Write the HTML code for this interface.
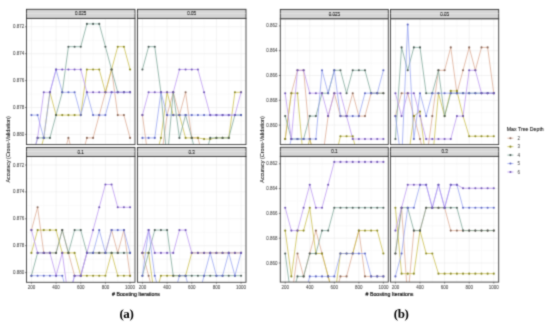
<!DOCTYPE html><html><head><meta charset="utf-8"><style>html,body{margin:0;padding:0;background:#fff;width:550px;height:326px;overflow:hidden}svg{display:block}text{font-family:"Liberation Sans",sans-serif}</style></head><body>
<svg width="550" height="326" viewBox="0 0 550 326">
<defs><filter id="bl" x="0" y="0" width="550" height="326" filterUnits="userSpaceOnUse" color-interpolation-filters="sRGB"><feConvolveMatrix order="3" kernelMatrix="1 4 1 4 16 4 1 4 1" edgeMode="duplicate"/></filter></defs>
<g filter="url(#bl)">
<rect width="550" height="326" fill="#fff"/>
<rect x="26.5" y="9.3" width="108.5" height="9.1" fill="#d5d5d5" stroke="#333" stroke-width="0.9"/>
<text x="80.75" y="15.4" font-size="4.5" text-anchor="middle" fill="#111" stroke="#111" stroke-width="0.12" >0.025</text>
<rect x="26.5" y="18.4" width="108.5" height="126.2" fill="#fff"/>
<line x1="43.76" y1="18.4" x2="43.76" y2="144.6" stroke="#f3f3f3" stroke-width="0.4"/><line x1="68.42" y1="18.4" x2="68.42" y2="144.6" stroke="#f3f3f3" stroke-width="0.4"/><line x1="93.08" y1="18.4" x2="93.08" y2="144.6" stroke="#f3f3f3" stroke-width="0.4"/><line x1="117.74" y1="18.4" x2="117.74" y2="144.6" stroke="#f3f3f3" stroke-width="0.4"/><line x1="26.5" y1="13.35" x2="135" y2="13.35" stroke="#f3f3f3" stroke-width="0.4"/><line x1="26.5" y1="40.25" x2="135" y2="40.25" stroke="#f3f3f3" stroke-width="0.4"/><line x1="26.5" y1="67.15" x2="135" y2="67.15" stroke="#f3f3f3" stroke-width="0.4"/><line x1="26.5" y1="94.05" x2="135" y2="94.05" stroke="#f3f3f3" stroke-width="0.4"/><line x1="26.5" y1="120.95" x2="135" y2="120.95" stroke="#f3f3f3" stroke-width="0.4"/><line x1="31.43" y1="18.4" x2="31.43" y2="144.6" stroke="#ebebeb" stroke-width="0.6"/><line x1="56.09" y1="18.4" x2="56.09" y2="144.6" stroke="#ebebeb" stroke-width="0.6"/><line x1="80.75" y1="18.4" x2="80.75" y2="144.6" stroke="#ebebeb" stroke-width="0.6"/><line x1="105.41" y1="18.4" x2="105.41" y2="144.6" stroke="#ebebeb" stroke-width="0.6"/><line x1="130.07" y1="18.4" x2="130.07" y2="144.6" stroke="#ebebeb" stroke-width="0.6"/><line x1="26.5" y1="26.8" x2="135" y2="26.8" stroke="#ebebeb" stroke-width="0.6"/><line x1="26.5" y1="53.7" x2="135" y2="53.7" stroke="#ebebeb" stroke-width="0.6"/><line x1="26.5" y1="80.6" x2="135" y2="80.6" stroke="#ebebeb" stroke-width="0.6"/><line x1="26.5" y1="107.5" x2="135" y2="107.5" stroke="#ebebeb" stroke-width="0.6"/><line x1="26.5" y1="134.4" x2="135" y2="134.4" stroke="#ebebeb" stroke-width="0.6"/>
<clipPath id="ca0"><rect x="26.5" y="18.4" width="108.5" height="126.2"/></clipPath>
<g clip-path="url(#ca0)">
<polyline points="31.43,160.7 37.6,160.7 43.76,160.7 49.93,160.7 56.09,160.7 62.26,160.7 68.42,137.9 74.59,160.7 80.75,160.7 86.91,137.9 93.08,137.9 99.24,115.1 105.41,92.3 111.57,69.5 117.74,115.1 123.9,115.1 130.07,137.9" fill="none" stroke="#dba890" stroke-width="0.75"/>
<polyline points="31.43,160.7 37.6,160.7 43.76,137.9 49.93,92.3 56.09,115.1 62.26,115.1 68.42,115.1 74.59,115.1 80.75,115.1 86.91,69.5 93.08,69.5 99.24,69.5 105.41,92.3 111.57,69.5 117.74,46.7 123.9,46.7 130.07,69.5" fill="none" stroke="#c8bc48" stroke-width="0.75"/>
<polyline points="31.43,160.7 37.6,137.9 43.76,137.9 49.93,137.9 56.09,115.1 62.26,92.3 68.42,46.7 74.59,46.7 80.75,46.7 86.91,23.9 93.08,23.9 99.24,23.9 105.41,46.7 111.57,69.5 117.74,92.3 123.9,92.3 130.07,92.3" fill="none" stroke="#7aa496" stroke-width="0.75"/>
<polyline points="31.43,115.1 37.6,115.1 43.76,137.9 49.93,92.3 56.09,69.5 62.26,92.3 68.42,92.3 74.59,92.3 80.75,115.1 86.91,92.3 93.08,115.1 99.24,115.1 105.41,115.1 111.57,92.3 117.74,92.3 123.9,92.3 130.07,92.3" fill="none" stroke="#94a2f0" stroke-width="0.75"/>
<polyline points="31.43,160.7 37.6,137.9 43.76,92.3 49.93,92.3 56.09,69.5 62.26,69.5 68.42,69.5 74.59,69.5 80.75,69.5 86.91,92.3 93.08,92.3 99.24,92.3 105.41,92.3 111.57,92.3 117.74,92.3 123.9,92.3 130.07,92.3" fill="none" stroke="#b894f0" stroke-width="0.75"/>
<circle cx="68.42" cy="137.9" r="1.05" fill="#8a6a5c"/>
<circle cx="86.91" cy="137.9" r="1.05" fill="#8a6a5c"/>
<circle cx="93.08" cy="137.9" r="1.05" fill="#8a6a5c"/>
<circle cx="99.24" cy="115.1" r="1.05" fill="#8a6a5c"/>
<circle cx="105.41" cy="92.3" r="1.05" fill="#8a6a5c"/>
<circle cx="111.57" cy="69.5" r="1.05" fill="#8a6a5c"/>
<circle cx="117.74" cy="115.1" r="1.05" fill="#8a6a5c"/>
<circle cx="123.9" cy="115.1" r="1.05" fill="#8a6a5c"/>
<circle cx="130.07" cy="137.9" r="1.05" fill="#8a6a5c"/>
<circle cx="43.76" cy="137.9" r="1.05" fill="#8a8a2a"/>
<circle cx="49.93" cy="92.3" r="1.05" fill="#8a8a2a"/>
<circle cx="56.09" cy="115.1" r="1.05" fill="#8a8a2a"/>
<circle cx="62.26" cy="115.1" r="1.05" fill="#8a8a2a"/>
<circle cx="68.42" cy="115.1" r="1.05" fill="#8a8a2a"/>
<circle cx="74.59" cy="115.1" r="1.05" fill="#8a8a2a"/>
<circle cx="80.75" cy="115.1" r="1.05" fill="#8a8a2a"/>
<circle cx="86.91" cy="69.5" r="1.05" fill="#8a8a2a"/>
<circle cx="93.08" cy="69.5" r="1.05" fill="#8a8a2a"/>
<circle cx="99.24" cy="69.5" r="1.05" fill="#8a8a2a"/>
<circle cx="105.41" cy="92.3" r="1.05" fill="#8a8a2a"/>
<circle cx="111.57" cy="69.5" r="1.05" fill="#8a8a2a"/>
<circle cx="117.74" cy="46.7" r="1.05" fill="#8a8a2a"/>
<circle cx="123.9" cy="46.7" r="1.05" fill="#8a8a2a"/>
<circle cx="130.07" cy="69.5" r="1.05" fill="#8a8a2a"/>
<circle cx="37.6" cy="137.9" r="1.05" fill="#4e5c58"/>
<circle cx="43.76" cy="137.9" r="1.05" fill="#4e5c58"/>
<circle cx="49.93" cy="137.9" r="1.05" fill="#4e5c58"/>
<circle cx="56.09" cy="115.1" r="1.05" fill="#4e5c58"/>
<circle cx="62.26" cy="92.3" r="1.05" fill="#4e5c58"/>
<circle cx="68.42" cy="46.7" r="1.05" fill="#4e5c58"/>
<circle cx="74.59" cy="46.7" r="1.05" fill="#4e5c58"/>
<circle cx="80.75" cy="46.7" r="1.05" fill="#4e5c58"/>
<circle cx="86.91" cy="23.9" r="1.05" fill="#4e5c58"/>
<circle cx="93.08" cy="23.9" r="1.05" fill="#4e5c58"/>
<circle cx="99.24" cy="23.9" r="1.05" fill="#4e5c58"/>
<circle cx="105.41" cy="46.7" r="1.05" fill="#4e5c58"/>
<circle cx="111.57" cy="69.5" r="1.05" fill="#4e5c58"/>
<circle cx="117.74" cy="92.3" r="1.05" fill="#4e5c58"/>
<circle cx="123.9" cy="92.3" r="1.05" fill="#4e5c58"/>
<circle cx="130.07" cy="92.3" r="1.05" fill="#4e5c58"/>
<circle cx="31.43" cy="115.1" r="1.05" fill="#5e66c0"/>
<circle cx="37.6" cy="115.1" r="1.05" fill="#5e66c0"/>
<circle cx="43.76" cy="137.9" r="1.05" fill="#5e66c0"/>
<circle cx="49.93" cy="92.3" r="1.05" fill="#5e66c0"/>
<circle cx="56.09" cy="69.5" r="1.05" fill="#5e66c0"/>
<circle cx="62.26" cy="92.3" r="1.05" fill="#5e66c0"/>
<circle cx="68.42" cy="92.3" r="1.05" fill="#5e66c0"/>
<circle cx="74.59" cy="92.3" r="1.05" fill="#5e66c0"/>
<circle cx="80.75" cy="115.1" r="1.05" fill="#5e66c0"/>
<circle cx="86.91" cy="92.3" r="1.05" fill="#5e66c0"/>
<circle cx="93.08" cy="115.1" r="1.05" fill="#5e66c0"/>
<circle cx="99.24" cy="115.1" r="1.05" fill="#5e66c0"/>
<circle cx="105.41" cy="115.1" r="1.05" fill="#5e66c0"/>
<circle cx="111.57" cy="92.3" r="1.05" fill="#5e66c0"/>
<circle cx="117.74" cy="92.3" r="1.05" fill="#5e66c0"/>
<circle cx="123.9" cy="92.3" r="1.05" fill="#5e66c0"/>
<circle cx="130.07" cy="92.3" r="1.05" fill="#5e66c0"/>
<circle cx="37.6" cy="137.9" r="1.05" fill="#7058b4"/>
<circle cx="43.76" cy="92.3" r="1.05" fill="#7058b4"/>
<circle cx="49.93" cy="92.3" r="1.05" fill="#7058b4"/>
<circle cx="56.09" cy="69.5" r="1.05" fill="#7058b4"/>
<circle cx="62.26" cy="69.5" r="1.05" fill="#7058b4"/>
<circle cx="68.42" cy="69.5" r="1.05" fill="#7058b4"/>
<circle cx="74.59" cy="69.5" r="1.05" fill="#7058b4"/>
<circle cx="80.75" cy="69.5" r="1.05" fill="#7058b4"/>
<circle cx="86.91" cy="92.3" r="1.05" fill="#7058b4"/>
<circle cx="93.08" cy="92.3" r="1.05" fill="#7058b4"/>
<circle cx="99.24" cy="92.3" r="1.05" fill="#7058b4"/>
<circle cx="105.41" cy="92.3" r="1.05" fill="#7058b4"/>
<circle cx="111.57" cy="92.3" r="1.05" fill="#7058b4"/>
<circle cx="117.74" cy="92.3" r="1.05" fill="#7058b4"/>
<circle cx="123.9" cy="92.3" r="1.05" fill="#7058b4"/>
<circle cx="130.07" cy="92.3" r="1.05" fill="#7058b4"/>
</g>
<rect x="26.5" y="18.4" width="108.5" height="126.2" fill="none" stroke="#3a3a3a" stroke-width="0.9"/>
<text x="24.2" y="28.3" font-size="4.5" text-anchor="end" fill="#444" stroke="#444" stroke-width="0.05" >0.872</text>
<line x1="25.1" y1="26.8" x2="26.5" y2="26.8" stroke="#333" stroke-width="0.6"/>
<text x="24.2" y="55.2" font-size="4.5" text-anchor="end" fill="#444" stroke="#444" stroke-width="0.05" >0.874</text>
<line x1="25.1" y1="53.7" x2="26.5" y2="53.7" stroke="#333" stroke-width="0.6"/>
<text x="24.2" y="82.1" font-size="4.5" text-anchor="end" fill="#444" stroke="#444" stroke-width="0.05" >0.876</text>
<line x1="25.1" y1="80.6" x2="26.5" y2="80.6" stroke="#333" stroke-width="0.6"/>
<text x="24.2" y="109" font-size="4.5" text-anchor="end" fill="#444" stroke="#444" stroke-width="0.05" >0.878</text>
<line x1="25.1" y1="107.5" x2="26.5" y2="107.5" stroke="#333" stroke-width="0.6"/>
<text x="24.2" y="135.9" font-size="4.5" text-anchor="end" fill="#444" stroke="#444" stroke-width="0.05" >0.880</text>
<line x1="25.1" y1="134.4" x2="26.5" y2="134.4" stroke="#333" stroke-width="0.6"/>
<rect x="137.5" y="9.3" width="108.5" height="9.1" fill="#d5d5d5" stroke="#333" stroke-width="0.9"/>
<text x="191.75" y="15.4" font-size="4.5" text-anchor="middle" fill="#111" stroke="#111" stroke-width="0.12" >0.05</text>
<rect x="137.5" y="18.4" width="108.5" height="126.2" fill="#fff"/>
<line x1="154.76" y1="18.4" x2="154.76" y2="144.6" stroke="#f3f3f3" stroke-width="0.4"/><line x1="179.42" y1="18.4" x2="179.42" y2="144.6" stroke="#f3f3f3" stroke-width="0.4"/><line x1="204.08" y1="18.4" x2="204.08" y2="144.6" stroke="#f3f3f3" stroke-width="0.4"/><line x1="228.74" y1="18.4" x2="228.74" y2="144.6" stroke="#f3f3f3" stroke-width="0.4"/><line x1="137.5" y1="13.35" x2="246" y2="13.35" stroke="#f3f3f3" stroke-width="0.4"/><line x1="137.5" y1="40.25" x2="246" y2="40.25" stroke="#f3f3f3" stroke-width="0.4"/><line x1="137.5" y1="67.15" x2="246" y2="67.15" stroke="#f3f3f3" stroke-width="0.4"/><line x1="137.5" y1="94.05" x2="246" y2="94.05" stroke="#f3f3f3" stroke-width="0.4"/><line x1="137.5" y1="120.95" x2="246" y2="120.95" stroke="#f3f3f3" stroke-width="0.4"/><line x1="142.43" y1="18.4" x2="142.43" y2="144.6" stroke="#ebebeb" stroke-width="0.6"/><line x1="167.09" y1="18.4" x2="167.09" y2="144.6" stroke="#ebebeb" stroke-width="0.6"/><line x1="191.75" y1="18.4" x2="191.75" y2="144.6" stroke="#ebebeb" stroke-width="0.6"/><line x1="216.41" y1="18.4" x2="216.41" y2="144.6" stroke="#ebebeb" stroke-width="0.6"/><line x1="241.07" y1="18.4" x2="241.07" y2="144.6" stroke="#ebebeb" stroke-width="0.6"/><line x1="137.5" y1="26.8" x2="246" y2="26.8" stroke="#ebebeb" stroke-width="0.6"/><line x1="137.5" y1="53.7" x2="246" y2="53.7" stroke="#ebebeb" stroke-width="0.6"/><line x1="137.5" y1="80.6" x2="246" y2="80.6" stroke="#ebebeb" stroke-width="0.6"/><line x1="137.5" y1="107.5" x2="246" y2="107.5" stroke="#ebebeb" stroke-width="0.6"/><line x1="137.5" y1="134.4" x2="246" y2="134.4" stroke="#ebebeb" stroke-width="0.6"/>
<clipPath id="ca1"><rect x="137.5" y="18.4" width="108.5" height="126.2"/></clipPath>
<g clip-path="url(#ca1)">
<polyline points="142.43,115.1 148.6,160.7 154.76,160.7 160.93,160.7 167.09,115.1 173.26,92.3 179.42,115.1 185.59,92.3 191.75,137.9 197.91,137.9 204.08,160.7 210.24,160.7 216.41,160.7 222.57,160.7 228.74,160.7 234.9,160.7 241.07,160.7" fill="none" stroke="#dba890" stroke-width="0.75"/>
<polyline points="142.43,160.7 148.6,160.7 154.76,160.7 160.93,137.9 167.09,92.3 173.26,115.1 179.42,115.1 185.59,137.9 191.75,137.9 197.91,137.9 204.08,139.04 210.24,139.04 216.41,137.9 222.57,137.9 228.74,137.9 234.9,92.3 241.07,92.3" fill="none" stroke="#c8bc48" stroke-width="0.75"/>
<polyline points="142.43,69.5 148.6,46.7 154.76,46.7 160.93,92.3 167.09,160.7 173.26,92.3 179.42,137.9 185.59,115.1 191.75,137.9 197.91,160.7 204.08,160.7 210.24,137.9 216.41,137.9 222.57,137.9 228.74,137.9 234.9,115.1 241.07,115.1" fill="none" stroke="#7aa496" stroke-width="0.75"/>
<polyline points="142.43,137.9 148.6,137.9 154.76,137.9 160.93,92.3 167.09,115.1 173.26,115.1 179.42,115.1 185.59,115.1 191.75,115.1 197.91,115.1 204.08,115.1 210.24,115.1 216.41,115.1 222.57,115.1 228.74,115.1 234.9,115.1 241.07,115.1" fill="none" stroke="#94a2f0" stroke-width="0.75"/>
<polyline points="142.43,115.1 148.6,92.3 154.76,92.3 160.93,92.3 167.09,92.3 173.26,92.3 179.42,69.5 185.59,69.5 191.75,69.5 197.91,69.5 204.08,92.3 210.24,115.1 216.41,115.1 222.57,115.1 228.74,115.1 234.9,115.1 241.07,92.3" fill="none" stroke="#b894f0" stroke-width="0.75"/>
<circle cx="142.43" cy="115.1" r="1.05" fill="#8a6a5c"/>
<circle cx="167.09" cy="115.1" r="1.05" fill="#8a6a5c"/>
<circle cx="173.26" cy="92.3" r="1.05" fill="#8a6a5c"/>
<circle cx="179.42" cy="115.1" r="1.05" fill="#8a6a5c"/>
<circle cx="185.59" cy="92.3" r="1.05" fill="#8a6a5c"/>
<circle cx="191.75" cy="137.9" r="1.05" fill="#8a6a5c"/>
<circle cx="197.91" cy="137.9" r="1.05" fill="#8a6a5c"/>
<circle cx="160.93" cy="137.9" r="1.05" fill="#8a8a2a"/>
<circle cx="167.09" cy="92.3" r="1.05" fill="#8a8a2a"/>
<circle cx="173.26" cy="115.1" r="1.05" fill="#8a8a2a"/>
<circle cx="179.42" cy="115.1" r="1.05" fill="#8a8a2a"/>
<circle cx="185.59" cy="137.9" r="1.05" fill="#8a8a2a"/>
<circle cx="191.75" cy="137.9" r="1.05" fill="#8a8a2a"/>
<circle cx="197.91" cy="137.9" r="1.05" fill="#8a8a2a"/>
<circle cx="204.08" cy="139.04" r="1.05" fill="#8a8a2a"/>
<circle cx="210.24" cy="139.04" r="1.05" fill="#8a8a2a"/>
<circle cx="216.41" cy="137.9" r="1.05" fill="#8a8a2a"/>
<circle cx="222.57" cy="137.9" r="1.05" fill="#8a8a2a"/>
<circle cx="228.74" cy="137.9" r="1.05" fill="#8a8a2a"/>
<circle cx="234.9" cy="92.3" r="1.05" fill="#8a8a2a"/>
<circle cx="241.07" cy="92.3" r="1.05" fill="#8a8a2a"/>
<circle cx="142.43" cy="69.5" r="1.05" fill="#4e5c58"/>
<circle cx="148.6" cy="46.7" r="1.05" fill="#4e5c58"/>
<circle cx="154.76" cy="46.7" r="1.05" fill="#4e5c58"/>
<circle cx="160.93" cy="92.3" r="1.05" fill="#4e5c58"/>
<circle cx="173.26" cy="92.3" r="1.05" fill="#4e5c58"/>
<circle cx="179.42" cy="137.9" r="1.05" fill="#4e5c58"/>
<circle cx="185.59" cy="115.1" r="1.05" fill="#4e5c58"/>
<circle cx="191.75" cy="137.9" r="1.05" fill="#4e5c58"/>
<circle cx="210.24" cy="137.9" r="1.05" fill="#4e5c58"/>
<circle cx="216.41" cy="137.9" r="1.05" fill="#4e5c58"/>
<circle cx="222.57" cy="137.9" r="1.05" fill="#4e5c58"/>
<circle cx="228.74" cy="137.9" r="1.05" fill="#4e5c58"/>
<circle cx="234.9" cy="115.1" r="1.05" fill="#4e5c58"/>
<circle cx="241.07" cy="115.1" r="1.05" fill="#4e5c58"/>
<circle cx="142.43" cy="137.9" r="1.05" fill="#5e66c0"/>
<circle cx="148.6" cy="137.9" r="1.05" fill="#5e66c0"/>
<circle cx="154.76" cy="137.9" r="1.05" fill="#5e66c0"/>
<circle cx="160.93" cy="92.3" r="1.05" fill="#5e66c0"/>
<circle cx="167.09" cy="115.1" r="1.05" fill="#5e66c0"/>
<circle cx="173.26" cy="115.1" r="1.05" fill="#5e66c0"/>
<circle cx="179.42" cy="115.1" r="1.05" fill="#5e66c0"/>
<circle cx="185.59" cy="115.1" r="1.05" fill="#5e66c0"/>
<circle cx="191.75" cy="115.1" r="1.05" fill="#5e66c0"/>
<circle cx="197.91" cy="115.1" r="1.05" fill="#5e66c0"/>
<circle cx="204.08" cy="115.1" r="1.05" fill="#5e66c0"/>
<circle cx="210.24" cy="115.1" r="1.05" fill="#5e66c0"/>
<circle cx="216.41" cy="115.1" r="1.05" fill="#5e66c0"/>
<circle cx="222.57" cy="115.1" r="1.05" fill="#5e66c0"/>
<circle cx="228.74" cy="115.1" r="1.05" fill="#5e66c0"/>
<circle cx="234.9" cy="115.1" r="1.05" fill="#5e66c0"/>
<circle cx="241.07" cy="115.1" r="1.05" fill="#5e66c0"/>
<circle cx="142.43" cy="115.1" r="1.05" fill="#7058b4"/>
<circle cx="148.6" cy="92.3" r="1.05" fill="#7058b4"/>
<circle cx="154.76" cy="92.3" r="1.05" fill="#7058b4"/>
<circle cx="160.93" cy="92.3" r="1.05" fill="#7058b4"/>
<circle cx="167.09" cy="92.3" r="1.05" fill="#7058b4"/>
<circle cx="173.26" cy="92.3" r="1.05" fill="#7058b4"/>
<circle cx="179.42" cy="69.5" r="1.05" fill="#7058b4"/>
<circle cx="185.59" cy="69.5" r="1.05" fill="#7058b4"/>
<circle cx="191.75" cy="69.5" r="1.05" fill="#7058b4"/>
<circle cx="197.91" cy="69.5" r="1.05" fill="#7058b4"/>
<circle cx="204.08" cy="92.3" r="1.05" fill="#7058b4"/>
<circle cx="210.24" cy="115.1" r="1.05" fill="#7058b4"/>
<circle cx="216.41" cy="115.1" r="1.05" fill="#7058b4"/>
<circle cx="222.57" cy="115.1" r="1.05" fill="#7058b4"/>
<circle cx="228.74" cy="115.1" r="1.05" fill="#7058b4"/>
<circle cx="234.9" cy="115.1" r="1.05" fill="#7058b4"/>
<circle cx="241.07" cy="92.3" r="1.05" fill="#7058b4"/>
</g>
<rect x="137.5" y="18.4" width="108.5" height="126.2" fill="none" stroke="#3a3a3a" stroke-width="0.9"/>
<rect x="26.5" y="147.5" width="108.5" height="9" fill="#d5d5d5" stroke="#333" stroke-width="0.9"/>
<text x="80.75" y="153.55" font-size="4.5" text-anchor="middle" fill="#111" stroke="#111" stroke-width="0.12" >0.1</text>
<rect x="26.5" y="156.5" width="108.5" height="125.8" fill="#fff"/>
<line x1="43.76" y1="156.5" x2="43.76" y2="282.3" stroke="#f3f3f3" stroke-width="0.4"/><line x1="68.42" y1="156.5" x2="68.42" y2="282.3" stroke="#f3f3f3" stroke-width="0.4"/><line x1="93.08" y1="156.5" x2="93.08" y2="282.3" stroke="#f3f3f3" stroke-width="0.4"/><line x1="117.74" y1="156.5" x2="117.74" y2="282.3" stroke="#f3f3f3" stroke-width="0.4"/><line x1="26.5" y1="151.55" x2="135" y2="151.55" stroke="#f3f3f3" stroke-width="0.4"/><line x1="26.5" y1="178.45" x2="135" y2="178.45" stroke="#f3f3f3" stroke-width="0.4"/><line x1="26.5" y1="205.35" x2="135" y2="205.35" stroke="#f3f3f3" stroke-width="0.4"/><line x1="26.5" y1="232.25" x2="135" y2="232.25" stroke="#f3f3f3" stroke-width="0.4"/><line x1="26.5" y1="259.15" x2="135" y2="259.15" stroke="#f3f3f3" stroke-width="0.4"/><line x1="31.43" y1="156.5" x2="31.43" y2="282.3" stroke="#ebebeb" stroke-width="0.6"/><line x1="56.09" y1="156.5" x2="56.09" y2="282.3" stroke="#ebebeb" stroke-width="0.6"/><line x1="80.75" y1="156.5" x2="80.75" y2="282.3" stroke="#ebebeb" stroke-width="0.6"/><line x1="105.41" y1="156.5" x2="105.41" y2="282.3" stroke="#ebebeb" stroke-width="0.6"/><line x1="130.07" y1="156.5" x2="130.07" y2="282.3" stroke="#ebebeb" stroke-width="0.6"/><line x1="26.5" y1="165" x2="135" y2="165" stroke="#ebebeb" stroke-width="0.6"/><line x1="26.5" y1="191.9" x2="135" y2="191.9" stroke="#ebebeb" stroke-width="0.6"/><line x1="26.5" y1="218.8" x2="135" y2="218.8" stroke="#ebebeb" stroke-width="0.6"/><line x1="26.5" y1="245.7" x2="135" y2="245.7" stroke="#ebebeb" stroke-width="0.6"/><line x1="26.5" y1="272.6" x2="135" y2="272.6" stroke="#ebebeb" stroke-width="0.6"/>
<clipPath id="ca2"><rect x="26.5" y="156.5" width="108.5" height="125.8"/></clipPath>
<g clip-path="url(#ca2)">
<polyline points="31.43,230.1 37.6,207.3 43.76,252.9 49.93,252.9 56.09,252.9 62.26,230.1 68.42,252.9 74.59,275.7 80.75,275.7 86.91,252.9 93.08,252.9 99.24,252.9 105.41,252.9 111.57,230.1 117.74,252.9 123.9,230.1 130.07,275.7" fill="none" stroke="#dba890" stroke-width="0.75"/>
<polyline points="31.43,252.9 37.6,230.1 43.76,230.1 49.93,230.1 56.09,230.1 62.26,252.9 68.42,252.9 74.59,252.9 80.75,275.7 86.91,275.7 93.08,275.7 99.24,275.7 105.41,275.7 111.57,252.9 117.74,275.7 123.9,275.7 130.07,275.7" fill="none" stroke="#c8bc48" stroke-width="0.75"/>
<polyline points="31.43,275.7 37.6,252.9 43.76,252.9 49.93,252.9 56.09,252.9 62.26,230.1 68.42,252.9 74.59,230.1 80.75,230.1 86.91,252.9 93.08,252.9 99.24,252.9 105.41,252.9 111.57,252.9 117.74,252.9 123.9,252.9 130.07,252.9" fill="none" stroke="#7aa496" stroke-width="0.75"/>
<polyline points="31.43,275.7 37.6,275.7 43.76,275.7 49.93,275.7 56.09,275.7 62.26,275.7 68.42,298.5 74.59,275.7 80.75,275.7 86.91,252.9 93.08,252.9 99.24,230.1 105.41,252.9 111.57,230.1 117.74,230.1 123.9,230.1 130.07,252.9" fill="none" stroke="#94a2f0" stroke-width="0.75"/>
<polyline points="31.43,230.1 37.6,252.9 43.76,252.9 49.93,252.9 56.09,275.7 62.26,252.9 68.42,298.5 74.59,275.7 80.75,275.7 86.91,252.9 93.08,230.1 99.24,207.3 105.41,184.5 111.57,184.5 117.74,207.3 123.9,207.3 130.07,207.3" fill="none" stroke="#b894f0" stroke-width="0.75"/>
<circle cx="31.43" cy="230.1" r="1.05" fill="#8a6a5c"/>
<circle cx="37.6" cy="207.3" r="1.05" fill="#8a6a5c"/>
<circle cx="43.76" cy="252.9" r="1.05" fill="#8a6a5c"/>
<circle cx="49.93" cy="252.9" r="1.05" fill="#8a6a5c"/>
<circle cx="56.09" cy="252.9" r="1.05" fill="#8a6a5c"/>
<circle cx="62.26" cy="230.1" r="1.05" fill="#8a6a5c"/>
<circle cx="68.42" cy="252.9" r="1.05" fill="#8a6a5c"/>
<circle cx="74.59" cy="275.7" r="1.05" fill="#8a6a5c"/>
<circle cx="80.75" cy="275.7" r="1.05" fill="#8a6a5c"/>
<circle cx="86.91" cy="252.9" r="1.05" fill="#8a6a5c"/>
<circle cx="93.08" cy="252.9" r="1.05" fill="#8a6a5c"/>
<circle cx="99.24" cy="252.9" r="1.05" fill="#8a6a5c"/>
<circle cx="105.41" cy="252.9" r="1.05" fill="#8a6a5c"/>
<circle cx="111.57" cy="230.1" r="1.05" fill="#8a6a5c"/>
<circle cx="117.74" cy="252.9" r="1.05" fill="#8a6a5c"/>
<circle cx="123.9" cy="230.1" r="1.05" fill="#8a6a5c"/>
<circle cx="130.07" cy="275.7" r="1.05" fill="#8a6a5c"/>
<circle cx="31.43" cy="252.9" r="1.05" fill="#8a8a2a"/>
<circle cx="37.6" cy="230.1" r="1.05" fill="#8a8a2a"/>
<circle cx="43.76" cy="230.1" r="1.05" fill="#8a8a2a"/>
<circle cx="49.93" cy="230.1" r="1.05" fill="#8a8a2a"/>
<circle cx="56.09" cy="230.1" r="1.05" fill="#8a8a2a"/>
<circle cx="62.26" cy="252.9" r="1.05" fill="#8a8a2a"/>
<circle cx="68.42" cy="252.9" r="1.05" fill="#8a8a2a"/>
<circle cx="74.59" cy="252.9" r="1.05" fill="#8a8a2a"/>
<circle cx="80.75" cy="275.7" r="1.05" fill="#8a8a2a"/>
<circle cx="86.91" cy="275.7" r="1.05" fill="#8a8a2a"/>
<circle cx="93.08" cy="275.7" r="1.05" fill="#8a8a2a"/>
<circle cx="99.24" cy="275.7" r="1.05" fill="#8a8a2a"/>
<circle cx="105.41" cy="275.7" r="1.05" fill="#8a8a2a"/>
<circle cx="111.57" cy="252.9" r="1.05" fill="#8a8a2a"/>
<circle cx="117.74" cy="275.7" r="1.05" fill="#8a8a2a"/>
<circle cx="123.9" cy="275.7" r="1.05" fill="#8a8a2a"/>
<circle cx="130.07" cy="275.7" r="1.05" fill="#8a8a2a"/>
<circle cx="31.43" cy="275.7" r="1.05" fill="#4e5c58"/>
<circle cx="37.6" cy="252.9" r="1.05" fill="#4e5c58"/>
<circle cx="43.76" cy="252.9" r="1.05" fill="#4e5c58"/>
<circle cx="49.93" cy="252.9" r="1.05" fill="#4e5c58"/>
<circle cx="56.09" cy="252.9" r="1.05" fill="#4e5c58"/>
<circle cx="62.26" cy="230.1" r="1.05" fill="#4e5c58"/>
<circle cx="68.42" cy="252.9" r="1.05" fill="#4e5c58"/>
<circle cx="74.59" cy="230.1" r="1.05" fill="#4e5c58"/>
<circle cx="80.75" cy="230.1" r="1.05" fill="#4e5c58"/>
<circle cx="86.91" cy="252.9" r="1.05" fill="#4e5c58"/>
<circle cx="93.08" cy="252.9" r="1.05" fill="#4e5c58"/>
<circle cx="99.24" cy="252.9" r="1.05" fill="#4e5c58"/>
<circle cx="105.41" cy="252.9" r="1.05" fill="#4e5c58"/>
<circle cx="111.57" cy="252.9" r="1.05" fill="#4e5c58"/>
<circle cx="117.74" cy="252.9" r="1.05" fill="#4e5c58"/>
<circle cx="123.9" cy="252.9" r="1.05" fill="#4e5c58"/>
<circle cx="130.07" cy="252.9" r="1.05" fill="#4e5c58"/>
<circle cx="31.43" cy="275.7" r="1.05" fill="#5e66c0"/>
<circle cx="37.6" cy="275.7" r="1.05" fill="#5e66c0"/>
<circle cx="43.76" cy="275.7" r="1.05" fill="#5e66c0"/>
<circle cx="49.93" cy="275.7" r="1.05" fill="#5e66c0"/>
<circle cx="56.09" cy="275.7" r="1.05" fill="#5e66c0"/>
<circle cx="62.26" cy="275.7" r="1.05" fill="#5e66c0"/>
<circle cx="74.59" cy="275.7" r="1.05" fill="#5e66c0"/>
<circle cx="80.75" cy="275.7" r="1.05" fill="#5e66c0"/>
<circle cx="86.91" cy="252.9" r="1.05" fill="#5e66c0"/>
<circle cx="93.08" cy="252.9" r="1.05" fill="#5e66c0"/>
<circle cx="99.24" cy="230.1" r="1.05" fill="#5e66c0"/>
<circle cx="105.41" cy="252.9" r="1.05" fill="#5e66c0"/>
<circle cx="111.57" cy="230.1" r="1.05" fill="#5e66c0"/>
<circle cx="117.74" cy="230.1" r="1.05" fill="#5e66c0"/>
<circle cx="123.9" cy="230.1" r="1.05" fill="#5e66c0"/>
<circle cx="130.07" cy="252.9" r="1.05" fill="#5e66c0"/>
<circle cx="31.43" cy="230.1" r="1.05" fill="#7058b4"/>
<circle cx="37.6" cy="252.9" r="1.05" fill="#7058b4"/>
<circle cx="43.76" cy="252.9" r="1.05" fill="#7058b4"/>
<circle cx="49.93" cy="252.9" r="1.05" fill="#7058b4"/>
<circle cx="56.09" cy="275.7" r="1.05" fill="#7058b4"/>
<circle cx="62.26" cy="252.9" r="1.05" fill="#7058b4"/>
<circle cx="74.59" cy="275.7" r="1.05" fill="#7058b4"/>
<circle cx="80.75" cy="275.7" r="1.05" fill="#7058b4"/>
<circle cx="86.91" cy="252.9" r="1.05" fill="#7058b4"/>
<circle cx="93.08" cy="230.1" r="1.05" fill="#7058b4"/>
<circle cx="99.24" cy="207.3" r="1.05" fill="#7058b4"/>
<circle cx="105.41" cy="184.5" r="1.05" fill="#7058b4"/>
<circle cx="111.57" cy="184.5" r="1.05" fill="#7058b4"/>
<circle cx="117.74" cy="207.3" r="1.05" fill="#7058b4"/>
<circle cx="123.9" cy="207.3" r="1.05" fill="#7058b4"/>
<circle cx="130.07" cy="207.3" r="1.05" fill="#7058b4"/>
</g>
<rect x="26.5" y="156.5" width="108.5" height="125.8" fill="none" stroke="#3a3a3a" stroke-width="0.9"/>
<text x="24.2" y="166.5" font-size="4.5" text-anchor="end" fill="#444" stroke="#444" stroke-width="0.05" >0.872</text>
<line x1="25.1" y1="165" x2="26.5" y2="165" stroke="#333" stroke-width="0.6"/>
<text x="24.2" y="193.4" font-size="4.5" text-anchor="end" fill="#444" stroke="#444" stroke-width="0.05" >0.874</text>
<line x1="25.1" y1="191.9" x2="26.5" y2="191.9" stroke="#333" stroke-width="0.6"/>
<text x="24.2" y="220.3" font-size="4.5" text-anchor="end" fill="#444" stroke="#444" stroke-width="0.05" >0.876</text>
<line x1="25.1" y1="218.8" x2="26.5" y2="218.8" stroke="#333" stroke-width="0.6"/>
<text x="24.2" y="247.2" font-size="4.5" text-anchor="end" fill="#444" stroke="#444" stroke-width="0.05" >0.878</text>
<line x1="25.1" y1="245.7" x2="26.5" y2="245.7" stroke="#333" stroke-width="0.6"/>
<text x="24.2" y="274.1" font-size="4.5" text-anchor="end" fill="#444" stroke="#444" stroke-width="0.05" >0.880</text>
<line x1="25.1" y1="272.6" x2="26.5" y2="272.6" stroke="#333" stroke-width="0.6"/>
<line x1="31.43" y1="282.3" x2="31.43" y2="283.7" stroke="#333" stroke-width="0.6"/>
<text x="31.43" y="289.3" font-size="4.5" text-anchor="middle" fill="#444" stroke="#444" stroke-width="0.05" >200</text>
<line x1="56.09" y1="282.3" x2="56.09" y2="283.7" stroke="#333" stroke-width="0.6"/>
<text x="56.09" y="289.3" font-size="4.5" text-anchor="middle" fill="#444" stroke="#444" stroke-width="0.05" >400</text>
<line x1="80.75" y1="282.3" x2="80.75" y2="283.7" stroke="#333" stroke-width="0.6"/>
<text x="80.75" y="289.3" font-size="4.5" text-anchor="middle" fill="#444" stroke="#444" stroke-width="0.05" >600</text>
<line x1="105.41" y1="282.3" x2="105.41" y2="283.7" stroke="#333" stroke-width="0.6"/>
<text x="105.41" y="289.3" font-size="4.5" text-anchor="middle" fill="#444" stroke="#444" stroke-width="0.05" >800</text>
<line x1="130.07" y1="282.3" x2="130.07" y2="283.7" stroke="#333" stroke-width="0.6"/>
<text x="130.07" y="289.3" font-size="4.5" text-anchor="middle" fill="#444" stroke="#444" stroke-width="0.05" >1000</text>
<rect x="137.5" y="147.5" width="108.5" height="9" fill="#d5d5d5" stroke="#333" stroke-width="0.9"/>
<text x="191.75" y="153.55" font-size="4.5" text-anchor="middle" fill="#111" stroke="#111" stroke-width="0.12" >0.3</text>
<rect x="137.5" y="156.5" width="108.5" height="125.8" fill="#fff"/>
<line x1="154.76" y1="156.5" x2="154.76" y2="282.3" stroke="#f3f3f3" stroke-width="0.4"/><line x1="179.42" y1="156.5" x2="179.42" y2="282.3" stroke="#f3f3f3" stroke-width="0.4"/><line x1="204.08" y1="156.5" x2="204.08" y2="282.3" stroke="#f3f3f3" stroke-width="0.4"/><line x1="228.74" y1="156.5" x2="228.74" y2="282.3" stroke="#f3f3f3" stroke-width="0.4"/><line x1="137.5" y1="151.55" x2="246" y2="151.55" stroke="#f3f3f3" stroke-width="0.4"/><line x1="137.5" y1="178.45" x2="246" y2="178.45" stroke="#f3f3f3" stroke-width="0.4"/><line x1="137.5" y1="205.35" x2="246" y2="205.35" stroke="#f3f3f3" stroke-width="0.4"/><line x1="137.5" y1="232.25" x2="246" y2="232.25" stroke="#f3f3f3" stroke-width="0.4"/><line x1="137.5" y1="259.15" x2="246" y2="259.15" stroke="#f3f3f3" stroke-width="0.4"/><line x1="142.43" y1="156.5" x2="142.43" y2="282.3" stroke="#ebebeb" stroke-width="0.6"/><line x1="167.09" y1="156.5" x2="167.09" y2="282.3" stroke="#ebebeb" stroke-width="0.6"/><line x1="191.75" y1="156.5" x2="191.75" y2="282.3" stroke="#ebebeb" stroke-width="0.6"/><line x1="216.41" y1="156.5" x2="216.41" y2="282.3" stroke="#ebebeb" stroke-width="0.6"/><line x1="241.07" y1="156.5" x2="241.07" y2="282.3" stroke="#ebebeb" stroke-width="0.6"/><line x1="137.5" y1="165" x2="246" y2="165" stroke="#ebebeb" stroke-width="0.6"/><line x1="137.5" y1="191.9" x2="246" y2="191.9" stroke="#ebebeb" stroke-width="0.6"/><line x1="137.5" y1="218.8" x2="246" y2="218.8" stroke="#ebebeb" stroke-width="0.6"/><line x1="137.5" y1="245.7" x2="246" y2="245.7" stroke="#ebebeb" stroke-width="0.6"/><line x1="137.5" y1="272.6" x2="246" y2="272.6" stroke="#ebebeb" stroke-width="0.6"/>
<clipPath id="ca3"><rect x="137.5" y="156.5" width="108.5" height="125.8"/></clipPath>
<g clip-path="url(#ca3)">
<polyline points="142.43,252.9 148.6,275.7 154.76,298.5 160.93,298.5 167.09,298.5 173.26,298.5 179.42,298.5 185.59,298.5 191.75,298.5 197.91,298.5 204.08,298.5 210.24,298.5 216.41,298.5 222.57,298.5 228.74,298.5 234.9,298.5 241.07,298.5" fill="none" stroke="#dba890" stroke-width="0.75"/>
<polyline points="142.43,252.9 148.6,252.9 154.76,298.5 160.93,275.7 167.09,275.7 173.26,275.7 179.42,275.7 185.59,275.7 191.75,252.9 197.91,252.9 204.08,252.9 210.24,252.9 216.41,252.9 222.57,252.9 228.74,252.9 234.9,252.9 241.07,252.9" fill="none" stroke="#c8bc48" stroke-width="0.75"/>
<polyline points="142.43,275.7 148.6,252.9 154.76,230.1 160.93,230.1 167.09,230.1 173.26,275.7 179.42,275.7 185.59,275.7 191.75,275.7 197.91,275.7 204.08,275.7 210.24,275.7 216.41,275.7 222.57,275.7 228.74,275.7 234.9,275.7 241.07,275.7" fill="none" stroke="#7aa496" stroke-width="0.75"/>
<polyline points="142.43,275.7 148.6,230.1 154.76,275.7 160.93,298.5 167.09,298.5 173.26,298.5 179.42,275.7 185.59,275.7 191.75,298.5 197.91,298.5 204.08,275.7 210.24,252.9 216.41,275.7 222.57,275.7 228.74,252.9 234.9,275.7 241.07,252.9" fill="none" stroke="#94a2f0" stroke-width="0.75"/>
<polyline points="142.43,252.9 148.6,230.1 154.76,252.9 160.93,252.9 167.09,252.9 173.26,252.9 179.42,230.1 185.59,230.1 191.75,252.9 197.91,252.9 204.08,252.9 210.24,252.9 216.41,252.9 222.57,252.9 228.74,252.9 234.9,252.9 241.07,252.9" fill="none" stroke="#b894f0" stroke-width="0.75"/>
<circle cx="142.43" cy="252.9" r="1.05" fill="#8a6a5c"/>
<circle cx="148.6" cy="275.7" r="1.05" fill="#8a6a5c"/>
<circle cx="142.43" cy="252.9" r="1.05" fill="#8a8a2a"/>
<circle cx="148.6" cy="252.9" r="1.05" fill="#8a8a2a"/>
<circle cx="160.93" cy="275.7" r="1.05" fill="#8a8a2a"/>
<circle cx="167.09" cy="275.7" r="1.05" fill="#8a8a2a"/>
<circle cx="173.26" cy="275.7" r="1.05" fill="#8a8a2a"/>
<circle cx="179.42" cy="275.7" r="1.05" fill="#8a8a2a"/>
<circle cx="185.59" cy="275.7" r="1.05" fill="#8a8a2a"/>
<circle cx="191.75" cy="252.9" r="1.05" fill="#8a8a2a"/>
<circle cx="197.91" cy="252.9" r="1.05" fill="#8a8a2a"/>
<circle cx="204.08" cy="252.9" r="1.05" fill="#8a8a2a"/>
<circle cx="210.24" cy="252.9" r="1.05" fill="#8a8a2a"/>
<circle cx="216.41" cy="252.9" r="1.05" fill="#8a8a2a"/>
<circle cx="222.57" cy="252.9" r="1.05" fill="#8a8a2a"/>
<circle cx="228.74" cy="252.9" r="1.05" fill="#8a8a2a"/>
<circle cx="234.9" cy="252.9" r="1.05" fill="#8a8a2a"/>
<circle cx="241.07" cy="252.9" r="1.05" fill="#8a8a2a"/>
<circle cx="142.43" cy="275.7" r="1.05" fill="#4e5c58"/>
<circle cx="148.6" cy="252.9" r="1.05" fill="#4e5c58"/>
<circle cx="154.76" cy="230.1" r="1.05" fill="#4e5c58"/>
<circle cx="160.93" cy="230.1" r="1.05" fill="#4e5c58"/>
<circle cx="167.09" cy="230.1" r="1.05" fill="#4e5c58"/>
<circle cx="173.26" cy="275.7" r="1.05" fill="#4e5c58"/>
<circle cx="179.42" cy="275.7" r="1.05" fill="#4e5c58"/>
<circle cx="185.59" cy="275.7" r="1.05" fill="#4e5c58"/>
<circle cx="191.75" cy="275.7" r="1.05" fill="#4e5c58"/>
<circle cx="197.91" cy="275.7" r="1.05" fill="#4e5c58"/>
<circle cx="204.08" cy="275.7" r="1.05" fill="#4e5c58"/>
<circle cx="210.24" cy="275.7" r="1.05" fill="#4e5c58"/>
<circle cx="216.41" cy="275.7" r="1.05" fill="#4e5c58"/>
<circle cx="222.57" cy="275.7" r="1.05" fill="#4e5c58"/>
<circle cx="228.74" cy="275.7" r="1.05" fill="#4e5c58"/>
<circle cx="234.9" cy="275.7" r="1.05" fill="#4e5c58"/>
<circle cx="241.07" cy="275.7" r="1.05" fill="#4e5c58"/>
<circle cx="142.43" cy="275.7" r="1.05" fill="#5e66c0"/>
<circle cx="148.6" cy="230.1" r="1.05" fill="#5e66c0"/>
<circle cx="154.76" cy="275.7" r="1.05" fill="#5e66c0"/>
<circle cx="179.42" cy="275.7" r="1.05" fill="#5e66c0"/>
<circle cx="185.59" cy="275.7" r="1.05" fill="#5e66c0"/>
<circle cx="204.08" cy="275.7" r="1.05" fill="#5e66c0"/>
<circle cx="210.24" cy="252.9" r="1.05" fill="#5e66c0"/>
<circle cx="216.41" cy="275.7" r="1.05" fill="#5e66c0"/>
<circle cx="222.57" cy="275.7" r="1.05" fill="#5e66c0"/>
<circle cx="228.74" cy="252.9" r="1.05" fill="#5e66c0"/>
<circle cx="234.9" cy="275.7" r="1.05" fill="#5e66c0"/>
<circle cx="241.07" cy="252.9" r="1.05" fill="#5e66c0"/>
<circle cx="142.43" cy="252.9" r="1.05" fill="#7058b4"/>
<circle cx="148.6" cy="230.1" r="1.05" fill="#7058b4"/>
<circle cx="154.76" cy="252.9" r="1.05" fill="#7058b4"/>
<circle cx="160.93" cy="252.9" r="1.05" fill="#7058b4"/>
<circle cx="167.09" cy="252.9" r="1.05" fill="#7058b4"/>
<circle cx="173.26" cy="252.9" r="1.05" fill="#7058b4"/>
<circle cx="179.42" cy="230.1" r="1.05" fill="#7058b4"/>
<circle cx="185.59" cy="230.1" r="1.05" fill="#7058b4"/>
<circle cx="191.75" cy="252.9" r="1.05" fill="#7058b4"/>
<circle cx="197.91" cy="252.9" r="1.05" fill="#7058b4"/>
<circle cx="204.08" cy="252.9" r="1.05" fill="#7058b4"/>
<circle cx="210.24" cy="252.9" r="1.05" fill="#7058b4"/>
<circle cx="216.41" cy="252.9" r="1.05" fill="#7058b4"/>
<circle cx="222.57" cy="252.9" r="1.05" fill="#7058b4"/>
<circle cx="228.74" cy="252.9" r="1.05" fill="#7058b4"/>
<circle cx="234.9" cy="252.9" r="1.05" fill="#7058b4"/>
<circle cx="241.07" cy="252.9" r="1.05" fill="#7058b4"/>
</g>
<rect x="137.5" y="156.5" width="108.5" height="125.8" fill="none" stroke="#3a3a3a" stroke-width="0.9"/>
<line x1="142.43" y1="282.3" x2="142.43" y2="283.7" stroke="#333" stroke-width="0.6"/>
<text x="142.43" y="289.3" font-size="4.5" text-anchor="middle" fill="#444" stroke="#444" stroke-width="0.05" >200</text>
<line x1="167.09" y1="282.3" x2="167.09" y2="283.7" stroke="#333" stroke-width="0.6"/>
<text x="167.09" y="289.3" font-size="4.5" text-anchor="middle" fill="#444" stroke="#444" stroke-width="0.05" >400</text>
<line x1="191.75" y1="282.3" x2="191.75" y2="283.7" stroke="#333" stroke-width="0.6"/>
<text x="191.75" y="289.3" font-size="4.5" text-anchor="middle" fill="#444" stroke="#444" stroke-width="0.05" >600</text>
<line x1="216.41" y1="282.3" x2="216.41" y2="283.7" stroke="#333" stroke-width="0.6"/>
<text x="216.41" y="289.3" font-size="4.5" text-anchor="middle" fill="#444" stroke="#444" stroke-width="0.05" >800</text>
<line x1="241.07" y1="282.3" x2="241.07" y2="283.7" stroke="#333" stroke-width="0.6"/>
<text x="241.07" y="289.3" font-size="4.5" text-anchor="middle" fill="#444" stroke="#444" stroke-width="0.05" >1000</text>
<text x="0" y="0" font-size="5.4" text-anchor="middle" fill="#1a1a1a" stroke="#1a1a1a" stroke-width="0.08" transform="translate(10.2,149.35) rotate(-90)">Accuracy (Cross-Validation)</text>
<text x="136" y="296.3" font-size="5.25" text-anchor="middle" fill="#111" stroke="#111" stroke-width="0.18" ># Boosting Iterations</text>
<rect x="280.3" y="9.4" width="108" height="9.5" fill="#d5d5d5" stroke="#333" stroke-width="0.9"/>
<text x="334.3" y="15.7" font-size="4.5" text-anchor="middle" fill="#111" stroke="#111" stroke-width="0.12" >0.025</text>
<rect x="280.3" y="18.9" width="108" height="125.7" fill="#fff"/>
<line x1="297.48" y1="18.9" x2="297.48" y2="144.6" stroke="#f3f3f3" stroke-width="0.4"/><line x1="322.03" y1="18.9" x2="322.03" y2="144.6" stroke="#f3f3f3" stroke-width="0.4"/><line x1="346.57" y1="18.9" x2="346.57" y2="144.6" stroke="#f3f3f3" stroke-width="0.4"/><line x1="371.12" y1="18.9" x2="371.12" y2="144.6" stroke="#f3f3f3" stroke-width="0.4"/><line x1="280.3" y1="13.5" x2="388.3" y2="13.5" stroke="#f3f3f3" stroke-width="0.4"/><line x1="280.3" y1="38.3" x2="388.3" y2="38.3" stroke="#f3f3f3" stroke-width="0.4"/><line x1="280.3" y1="63.1" x2="388.3" y2="63.1" stroke="#f3f3f3" stroke-width="0.4"/><line x1="280.3" y1="87.9" x2="388.3" y2="87.9" stroke="#f3f3f3" stroke-width="0.4"/><line x1="280.3" y1="112.7" x2="388.3" y2="112.7" stroke="#f3f3f3" stroke-width="0.4"/><line x1="285.21" y1="18.9" x2="285.21" y2="144.6" stroke="#ebebeb" stroke-width="0.6"/><line x1="309.75" y1="18.9" x2="309.75" y2="144.6" stroke="#ebebeb" stroke-width="0.6"/><line x1="334.3" y1="18.9" x2="334.3" y2="144.6" stroke="#ebebeb" stroke-width="0.6"/><line x1="358.85" y1="18.9" x2="358.85" y2="144.6" stroke="#ebebeb" stroke-width="0.6"/><line x1="383.39" y1="18.9" x2="383.39" y2="144.6" stroke="#ebebeb" stroke-width="0.6"/><line x1="280.3" y1="25.9" x2="388.3" y2="25.9" stroke="#ebebeb" stroke-width="0.6"/><line x1="280.3" y1="50.7" x2="388.3" y2="50.7" stroke="#ebebeb" stroke-width="0.6"/><line x1="280.3" y1="75.5" x2="388.3" y2="75.5" stroke="#ebebeb" stroke-width="0.6"/><line x1="280.3" y1="100.3" x2="388.3" y2="100.3" stroke="#ebebeb" stroke-width="0.6"/><line x1="280.3" y1="125.1" x2="388.3" y2="125.1" stroke="#ebebeb" stroke-width="0.6"/>
<clipPath id="cb0"><rect x="280.3" y="18.9" width="108" height="125.7"/></clipPath>
<g clip-path="url(#cb0)">
<polyline points="285.21,139 291.35,93.2 297.48,70.3 303.62,70.3 309.75,139 315.89,161.9 322.03,161.9 328.16,116.1 334.3,93.2 340.44,116.1 346.57,116.1 352.71,93.2 358.85,116.1 364.98,116.1 371.12,93.2 377.25,93.2 383.39,93.2" fill="none" stroke="#dba890" stroke-width="0.75"/>
<polyline points="285.21,139 291.35,93.2 297.48,93.2 303.62,161.9 309.75,139 315.89,161.9 322.03,161.9 328.16,161.9 334.3,161.9 340.44,136.25 346.57,136.25 352.71,136.25 358.85,161.9 364.98,161.9 371.12,161.9 377.25,161.9 383.39,161.9" fill="none" stroke="#c8bc48" stroke-width="0.75"/>
<polyline points="285.21,116.1 291.35,139 297.48,139 303.62,139 309.75,116.1 315.89,116.1 322.03,93.2 328.16,93.2 334.3,70.3 340.44,70.3 346.57,93.2 352.71,70.3 358.85,70.3 364.98,70.3 371.12,93.2 377.25,93.2 383.39,93.2" fill="none" stroke="#7aa496" stroke-width="0.75"/>
<polyline points="285.21,161.9 291.35,139 297.48,139 303.62,139 309.75,139 315.89,139 322.03,70.3 328.16,93.2 334.3,70.3 340.44,116.1 346.57,116.1 352.71,116.1 358.85,116.1 364.98,93.2 371.12,93.2 377.25,93.2 383.39,70.3" fill="none" stroke="#94a2f0" stroke-width="0.75"/>
<polyline points="285.21,93.2 291.35,139 297.48,70.3 303.62,70.3 309.75,93.2 315.89,93.2 322.03,93.2 328.16,116.1 334.3,93.2 340.44,93.2 346.57,116.1 352.71,139 358.85,139 364.98,139 371.12,139 377.25,139 383.39,139" fill="none" stroke="#b894f0" stroke-width="0.75"/>
<circle cx="285.21" cy="139" r="1.05" fill="#8a6a5c"/>
<circle cx="291.35" cy="93.2" r="1.05" fill="#8a6a5c"/>
<circle cx="297.48" cy="70.3" r="1.05" fill="#8a6a5c"/>
<circle cx="303.62" cy="70.3" r="1.05" fill="#8a6a5c"/>
<circle cx="309.75" cy="139" r="1.05" fill="#8a6a5c"/>
<circle cx="328.16" cy="116.1" r="1.05" fill="#8a6a5c"/>
<circle cx="334.3" cy="93.2" r="1.05" fill="#8a6a5c"/>
<circle cx="340.44" cy="116.1" r="1.05" fill="#8a6a5c"/>
<circle cx="346.57" cy="116.1" r="1.05" fill="#8a6a5c"/>
<circle cx="352.71" cy="93.2" r="1.05" fill="#8a6a5c"/>
<circle cx="358.85" cy="116.1" r="1.05" fill="#8a6a5c"/>
<circle cx="364.98" cy="116.1" r="1.05" fill="#8a6a5c"/>
<circle cx="371.12" cy="93.2" r="1.05" fill="#8a6a5c"/>
<circle cx="377.25" cy="93.2" r="1.05" fill="#8a6a5c"/>
<circle cx="383.39" cy="93.2" r="1.05" fill="#8a6a5c"/>
<circle cx="285.21" cy="139" r="1.05" fill="#8a8a2a"/>
<circle cx="291.35" cy="93.2" r="1.05" fill="#8a8a2a"/>
<circle cx="297.48" cy="93.2" r="1.05" fill="#8a8a2a"/>
<circle cx="309.75" cy="139" r="1.05" fill="#8a8a2a"/>
<circle cx="340.44" cy="136.25" r="1.05" fill="#8a8a2a"/>
<circle cx="346.57" cy="136.25" r="1.05" fill="#8a8a2a"/>
<circle cx="352.71" cy="136.25" r="1.05" fill="#8a8a2a"/>
<circle cx="285.21" cy="116.1" r="1.05" fill="#4e5c58"/>
<circle cx="291.35" cy="139" r="1.05" fill="#4e5c58"/>
<circle cx="297.48" cy="139" r="1.05" fill="#4e5c58"/>
<circle cx="303.62" cy="139" r="1.05" fill="#4e5c58"/>
<circle cx="309.75" cy="116.1" r="1.05" fill="#4e5c58"/>
<circle cx="315.89" cy="116.1" r="1.05" fill="#4e5c58"/>
<circle cx="322.03" cy="93.2" r="1.05" fill="#4e5c58"/>
<circle cx="328.16" cy="93.2" r="1.05" fill="#4e5c58"/>
<circle cx="334.3" cy="70.3" r="1.05" fill="#4e5c58"/>
<circle cx="340.44" cy="70.3" r="1.05" fill="#4e5c58"/>
<circle cx="346.57" cy="93.2" r="1.05" fill="#4e5c58"/>
<circle cx="352.71" cy="70.3" r="1.05" fill="#4e5c58"/>
<circle cx="358.85" cy="70.3" r="1.05" fill="#4e5c58"/>
<circle cx="364.98" cy="70.3" r="1.05" fill="#4e5c58"/>
<circle cx="371.12" cy="93.2" r="1.05" fill="#4e5c58"/>
<circle cx="377.25" cy="93.2" r="1.05" fill="#4e5c58"/>
<circle cx="383.39" cy="93.2" r="1.05" fill="#4e5c58"/>
<circle cx="291.35" cy="139" r="1.05" fill="#5e66c0"/>
<circle cx="297.48" cy="139" r="1.05" fill="#5e66c0"/>
<circle cx="303.62" cy="139" r="1.05" fill="#5e66c0"/>
<circle cx="309.75" cy="139" r="1.05" fill="#5e66c0"/>
<circle cx="315.89" cy="139" r="1.05" fill="#5e66c0"/>
<circle cx="322.03" cy="70.3" r="1.05" fill="#5e66c0"/>
<circle cx="328.16" cy="93.2" r="1.05" fill="#5e66c0"/>
<circle cx="334.3" cy="70.3" r="1.05" fill="#5e66c0"/>
<circle cx="340.44" cy="116.1" r="1.05" fill="#5e66c0"/>
<circle cx="346.57" cy="116.1" r="1.05" fill="#5e66c0"/>
<circle cx="352.71" cy="116.1" r="1.05" fill="#5e66c0"/>
<circle cx="358.85" cy="116.1" r="1.05" fill="#5e66c0"/>
<circle cx="364.98" cy="93.2" r="1.05" fill="#5e66c0"/>
<circle cx="371.12" cy="93.2" r="1.05" fill="#5e66c0"/>
<circle cx="377.25" cy="93.2" r="1.05" fill="#5e66c0"/>
<circle cx="383.39" cy="70.3" r="1.05" fill="#5e66c0"/>
<circle cx="285.21" cy="93.2" r="1.05" fill="#7058b4"/>
<circle cx="291.35" cy="139" r="1.05" fill="#7058b4"/>
<circle cx="297.48" cy="70.3" r="1.05" fill="#7058b4"/>
<circle cx="303.62" cy="70.3" r="1.05" fill="#7058b4"/>
<circle cx="309.75" cy="93.2" r="1.05" fill="#7058b4"/>
<circle cx="315.89" cy="93.2" r="1.05" fill="#7058b4"/>
<circle cx="322.03" cy="93.2" r="1.05" fill="#7058b4"/>
<circle cx="328.16" cy="116.1" r="1.05" fill="#7058b4"/>
<circle cx="334.3" cy="93.2" r="1.05" fill="#7058b4"/>
<circle cx="340.44" cy="93.2" r="1.05" fill="#7058b4"/>
<circle cx="346.57" cy="116.1" r="1.05" fill="#7058b4"/>
<circle cx="352.71" cy="139" r="1.05" fill="#7058b4"/>
<circle cx="358.85" cy="139" r="1.05" fill="#7058b4"/>
<circle cx="364.98" cy="139" r="1.05" fill="#7058b4"/>
<circle cx="371.12" cy="139" r="1.05" fill="#7058b4"/>
<circle cx="377.25" cy="139" r="1.05" fill="#7058b4"/>
<circle cx="383.39" cy="139" r="1.05" fill="#7058b4"/>
</g>
<rect x="280.3" y="18.9" width="108" height="125.7" fill="none" stroke="#3a3a3a" stroke-width="0.9"/>
<text x="277.5" y="27.4" font-size="4.5" text-anchor="end" fill="#444" stroke="#444" stroke-width="0.05" >0.862</text>
<line x1="278.9" y1="25.9" x2="280.3" y2="25.9" stroke="#333" stroke-width="0.6"/>
<text x="277.5" y="52.2" font-size="4.5" text-anchor="end" fill="#444" stroke="#444" stroke-width="0.05" >0.864</text>
<line x1="278.9" y1="50.7" x2="280.3" y2="50.7" stroke="#333" stroke-width="0.6"/>
<text x="277.5" y="77" font-size="4.5" text-anchor="end" fill="#444" stroke="#444" stroke-width="0.05" >0.866</text>
<line x1="278.9" y1="75.5" x2="280.3" y2="75.5" stroke="#333" stroke-width="0.6"/>
<text x="277.5" y="101.8" font-size="4.5" text-anchor="end" fill="#444" stroke="#444" stroke-width="0.05" >0.868</text>
<line x1="278.9" y1="100.3" x2="280.3" y2="100.3" stroke="#333" stroke-width="0.6"/>
<text x="277.5" y="126.6" font-size="4.5" text-anchor="end" fill="#444" stroke="#444" stroke-width="0.05" >0.860</text>
<line x1="278.9" y1="125.1" x2="280.3" y2="125.1" stroke="#333" stroke-width="0.6"/>
<rect x="390.5" y="9.4" width="108.2" height="9.5" fill="#d5d5d5" stroke="#333" stroke-width="0.9"/>
<text x="444.6" y="15.7" font-size="4.5" text-anchor="middle" fill="#111" stroke="#111" stroke-width="0.12" >0.05</text>
<rect x="390.5" y="18.9" width="108.2" height="125.7" fill="#fff"/>
<line x1="407.71" y1="18.9" x2="407.71" y2="144.6" stroke="#f3f3f3" stroke-width="0.4"/><line x1="432.3" y1="18.9" x2="432.3" y2="144.6" stroke="#f3f3f3" stroke-width="0.4"/><line x1="456.9" y1="18.9" x2="456.9" y2="144.6" stroke="#f3f3f3" stroke-width="0.4"/><line x1="481.49" y1="18.9" x2="481.49" y2="144.6" stroke="#f3f3f3" stroke-width="0.4"/><line x1="390.5" y1="13.5" x2="498.7" y2="13.5" stroke="#f3f3f3" stroke-width="0.4"/><line x1="390.5" y1="38.3" x2="498.7" y2="38.3" stroke="#f3f3f3" stroke-width="0.4"/><line x1="390.5" y1="63.1" x2="498.7" y2="63.1" stroke="#f3f3f3" stroke-width="0.4"/><line x1="390.5" y1="87.9" x2="498.7" y2="87.9" stroke="#f3f3f3" stroke-width="0.4"/><line x1="390.5" y1="112.7" x2="498.7" y2="112.7" stroke="#f3f3f3" stroke-width="0.4"/><line x1="395.42" y1="18.9" x2="395.42" y2="144.6" stroke="#ebebeb" stroke-width="0.6"/><line x1="420.01" y1="18.9" x2="420.01" y2="144.6" stroke="#ebebeb" stroke-width="0.6"/><line x1="444.6" y1="18.9" x2="444.6" y2="144.6" stroke="#ebebeb" stroke-width="0.6"/><line x1="469.19" y1="18.9" x2="469.19" y2="144.6" stroke="#ebebeb" stroke-width="0.6"/><line x1="493.78" y1="18.9" x2="493.78" y2="144.6" stroke="#ebebeb" stroke-width="0.6"/><line x1="390.5" y1="25.9" x2="498.7" y2="25.9" stroke="#ebebeb" stroke-width="0.6"/><line x1="390.5" y1="50.7" x2="498.7" y2="50.7" stroke="#ebebeb" stroke-width="0.6"/><line x1="390.5" y1="75.5" x2="498.7" y2="75.5" stroke="#ebebeb" stroke-width="0.6"/><line x1="390.5" y1="100.3" x2="498.7" y2="100.3" stroke="#ebebeb" stroke-width="0.6"/><line x1="390.5" y1="125.1" x2="498.7" y2="125.1" stroke="#ebebeb" stroke-width="0.6"/>
<clipPath id="cb1"><rect x="390.5" y="18.9" width="108.2" height="125.7"/></clipPath>
<g clip-path="url(#cb1)">
<polyline points="395.42,116.1 401.57,93.2 407.71,93.2 413.86,116.1 420.01,139 426.16,161.9 432.3,116.1 438.45,70.3 444.6,70.3 450.75,47.4 456.9,93.2 463.04,70.3 469.19,47.4 475.34,70.3 481.49,47.4 487.63,47.4 493.78,93.2" fill="none" stroke="#dba890" stroke-width="0.75"/>
<polyline points="395.42,161.9 401.57,161.9 407.71,161.9 413.86,116.1 420.01,111.52 426.16,161.9 432.3,161.9 438.45,93.2 444.6,116.1 450.75,90.91 456.9,90.91 463.04,116.1 469.19,136.25 475.34,136.25 481.49,136.25 487.63,136.25 493.78,136.25" fill="none" stroke="#c8bc48" stroke-width="0.75"/>
<polyline points="395.42,139 401.57,47.4 407.71,70.3 413.86,47.4 420.01,47.4 426.16,93.2 432.3,93.2 438.45,70.3 444.6,116.1 450.75,93.2 456.9,93.2 463.04,93.2 469.19,93.2 475.34,93.2 481.49,93.2 487.63,93.2 493.78,93.2" fill="none" stroke="#7aa496" stroke-width="0.75"/>
<polyline points="395.42,116.1 401.57,161.9 407.71,24.5 413.86,139 420.01,93.2 426.16,116.1 432.3,93.2 438.45,93.2 444.6,93.2 450.75,93.2 456.9,93.2 463.04,93.2 469.19,93.2 475.34,93.2 481.49,93.2 487.63,93.2 493.78,93.2" fill="none" stroke="#94a2f0" stroke-width="0.75"/>
<polyline points="395.42,93.2 401.57,116.1 407.71,93.2 413.86,93.2 420.01,116.1 426.16,139 432.3,139 438.45,139 444.6,139 450.75,139 456.9,116.1 463.04,116.1 469.19,70.3 475.34,70.3 481.49,93.2 487.63,93.2 493.78,93.2" fill="none" stroke="#b894f0" stroke-width="0.75"/>
<circle cx="395.42" cy="116.1" r="1.05" fill="#8a6a5c"/>
<circle cx="401.57" cy="93.2" r="1.05" fill="#8a6a5c"/>
<circle cx="407.71" cy="93.2" r="1.05" fill="#8a6a5c"/>
<circle cx="413.86" cy="116.1" r="1.05" fill="#8a6a5c"/>
<circle cx="420.01" cy="139" r="1.05" fill="#8a6a5c"/>
<circle cx="432.3" cy="116.1" r="1.05" fill="#8a6a5c"/>
<circle cx="438.45" cy="70.3" r="1.05" fill="#8a6a5c"/>
<circle cx="444.6" cy="70.3" r="1.05" fill="#8a6a5c"/>
<circle cx="450.75" cy="47.4" r="1.05" fill="#8a6a5c"/>
<circle cx="456.9" cy="93.2" r="1.05" fill="#8a6a5c"/>
<circle cx="463.04" cy="70.3" r="1.05" fill="#8a6a5c"/>
<circle cx="469.19" cy="47.4" r="1.05" fill="#8a6a5c"/>
<circle cx="475.34" cy="70.3" r="1.05" fill="#8a6a5c"/>
<circle cx="481.49" cy="47.4" r="1.05" fill="#8a6a5c"/>
<circle cx="487.63" cy="47.4" r="1.05" fill="#8a6a5c"/>
<circle cx="493.78" cy="93.2" r="1.05" fill="#8a6a5c"/>
<circle cx="413.86" cy="116.1" r="1.05" fill="#8a8a2a"/>
<circle cx="420.01" cy="111.52" r="1.05" fill="#8a8a2a"/>
<circle cx="438.45" cy="93.2" r="1.05" fill="#8a8a2a"/>
<circle cx="444.6" cy="116.1" r="1.05" fill="#8a8a2a"/>
<circle cx="450.75" cy="90.91" r="1.05" fill="#8a8a2a"/>
<circle cx="456.9" cy="90.91" r="1.05" fill="#8a8a2a"/>
<circle cx="463.04" cy="116.1" r="1.05" fill="#8a8a2a"/>
<circle cx="469.19" cy="136.25" r="1.05" fill="#8a8a2a"/>
<circle cx="475.34" cy="136.25" r="1.05" fill="#8a8a2a"/>
<circle cx="481.49" cy="136.25" r="1.05" fill="#8a8a2a"/>
<circle cx="487.63" cy="136.25" r="1.05" fill="#8a8a2a"/>
<circle cx="493.78" cy="136.25" r="1.05" fill="#8a8a2a"/>
<circle cx="395.42" cy="139" r="1.05" fill="#4e5c58"/>
<circle cx="401.57" cy="47.4" r="1.05" fill="#4e5c58"/>
<circle cx="407.71" cy="70.3" r="1.05" fill="#4e5c58"/>
<circle cx="413.86" cy="47.4" r="1.05" fill="#4e5c58"/>
<circle cx="420.01" cy="47.4" r="1.05" fill="#4e5c58"/>
<circle cx="426.16" cy="93.2" r="1.05" fill="#4e5c58"/>
<circle cx="432.3" cy="93.2" r="1.05" fill="#4e5c58"/>
<circle cx="438.45" cy="70.3" r="1.05" fill="#4e5c58"/>
<circle cx="444.6" cy="116.1" r="1.05" fill="#4e5c58"/>
<circle cx="450.75" cy="93.2" r="1.05" fill="#4e5c58"/>
<circle cx="456.9" cy="93.2" r="1.05" fill="#4e5c58"/>
<circle cx="463.04" cy="93.2" r="1.05" fill="#4e5c58"/>
<circle cx="469.19" cy="93.2" r="1.05" fill="#4e5c58"/>
<circle cx="475.34" cy="93.2" r="1.05" fill="#4e5c58"/>
<circle cx="481.49" cy="93.2" r="1.05" fill="#4e5c58"/>
<circle cx="487.63" cy="93.2" r="1.05" fill="#4e5c58"/>
<circle cx="493.78" cy="93.2" r="1.05" fill="#4e5c58"/>
<circle cx="395.42" cy="116.1" r="1.05" fill="#5e66c0"/>
<circle cx="407.71" cy="24.5" r="1.05" fill="#5e66c0"/>
<circle cx="413.86" cy="139" r="1.05" fill="#5e66c0"/>
<circle cx="420.01" cy="93.2" r="1.05" fill="#5e66c0"/>
<circle cx="426.16" cy="116.1" r="1.05" fill="#5e66c0"/>
<circle cx="432.3" cy="93.2" r="1.05" fill="#5e66c0"/>
<circle cx="438.45" cy="93.2" r="1.05" fill="#5e66c0"/>
<circle cx="444.6" cy="93.2" r="1.05" fill="#5e66c0"/>
<circle cx="450.75" cy="93.2" r="1.05" fill="#5e66c0"/>
<circle cx="456.9" cy="93.2" r="1.05" fill="#5e66c0"/>
<circle cx="463.04" cy="93.2" r="1.05" fill="#5e66c0"/>
<circle cx="469.19" cy="93.2" r="1.05" fill="#5e66c0"/>
<circle cx="475.34" cy="93.2" r="1.05" fill="#5e66c0"/>
<circle cx="481.49" cy="93.2" r="1.05" fill="#5e66c0"/>
<circle cx="487.63" cy="93.2" r="1.05" fill="#5e66c0"/>
<circle cx="493.78" cy="93.2" r="1.05" fill="#5e66c0"/>
<circle cx="395.42" cy="93.2" r="1.05" fill="#7058b4"/>
<circle cx="401.57" cy="116.1" r="1.05" fill="#7058b4"/>
<circle cx="407.71" cy="93.2" r="1.05" fill="#7058b4"/>
<circle cx="413.86" cy="93.2" r="1.05" fill="#7058b4"/>
<circle cx="420.01" cy="116.1" r="1.05" fill="#7058b4"/>
<circle cx="426.16" cy="139" r="1.05" fill="#7058b4"/>
<circle cx="432.3" cy="139" r="1.05" fill="#7058b4"/>
<circle cx="438.45" cy="139" r="1.05" fill="#7058b4"/>
<circle cx="444.6" cy="139" r="1.05" fill="#7058b4"/>
<circle cx="450.75" cy="139" r="1.05" fill="#7058b4"/>
<circle cx="456.9" cy="116.1" r="1.05" fill="#7058b4"/>
<circle cx="463.04" cy="116.1" r="1.05" fill="#7058b4"/>
<circle cx="469.19" cy="70.3" r="1.05" fill="#7058b4"/>
<circle cx="475.34" cy="70.3" r="1.05" fill="#7058b4"/>
<circle cx="481.49" cy="93.2" r="1.05" fill="#7058b4"/>
<circle cx="487.63" cy="93.2" r="1.05" fill="#7058b4"/>
<circle cx="493.78" cy="93.2" r="1.05" fill="#7058b4"/>
</g>
<rect x="390.5" y="18.9" width="108.2" height="125.7" fill="none" stroke="#3a3a3a" stroke-width="0.9"/>
<rect x="280.3" y="147.3" width="108" height="9.1" fill="#d5d5d5" stroke="#333" stroke-width="0.9"/>
<text x="334.3" y="153.4" font-size="4.5" text-anchor="middle" fill="#111" stroke="#111" stroke-width="0.12" >0.1</text>
<rect x="280.3" y="156.4" width="108" height="125.7" fill="#fff"/>
<line x1="297.48" y1="156.4" x2="297.48" y2="282.1" stroke="#f3f3f3" stroke-width="0.4"/><line x1="322.03" y1="156.4" x2="322.03" y2="282.1" stroke="#f3f3f3" stroke-width="0.4"/><line x1="346.57" y1="156.4" x2="346.57" y2="282.1" stroke="#f3f3f3" stroke-width="0.4"/><line x1="371.12" y1="156.4" x2="371.12" y2="282.1" stroke="#f3f3f3" stroke-width="0.4"/><line x1="280.3" y1="151.4" x2="388.3" y2="151.4" stroke="#f3f3f3" stroke-width="0.4"/><line x1="280.3" y1="176.2" x2="388.3" y2="176.2" stroke="#f3f3f3" stroke-width="0.4"/><line x1="280.3" y1="201" x2="388.3" y2="201" stroke="#f3f3f3" stroke-width="0.4"/><line x1="280.3" y1="225.8" x2="388.3" y2="225.8" stroke="#f3f3f3" stroke-width="0.4"/><line x1="280.3" y1="250.6" x2="388.3" y2="250.6" stroke="#f3f3f3" stroke-width="0.4"/><line x1="285.21" y1="156.4" x2="285.21" y2="282.1" stroke="#ebebeb" stroke-width="0.6"/><line x1="309.75" y1="156.4" x2="309.75" y2="282.1" stroke="#ebebeb" stroke-width="0.6"/><line x1="334.3" y1="156.4" x2="334.3" y2="282.1" stroke="#ebebeb" stroke-width="0.6"/><line x1="358.85" y1="156.4" x2="358.85" y2="282.1" stroke="#ebebeb" stroke-width="0.6"/><line x1="383.39" y1="156.4" x2="383.39" y2="282.1" stroke="#ebebeb" stroke-width="0.6"/><line x1="280.3" y1="163.8" x2="388.3" y2="163.8" stroke="#ebebeb" stroke-width="0.6"/><line x1="280.3" y1="188.6" x2="388.3" y2="188.6" stroke="#ebebeb" stroke-width="0.6"/><line x1="280.3" y1="213.4" x2="388.3" y2="213.4" stroke="#ebebeb" stroke-width="0.6"/><line x1="280.3" y1="238.2" x2="388.3" y2="238.2" stroke="#ebebeb" stroke-width="0.6"/><line x1="280.3" y1="263" x2="388.3" y2="263" stroke="#ebebeb" stroke-width="0.6"/>
<clipPath id="cb2"><rect x="280.3" y="156.4" width="108" height="125.7"/></clipPath>
<g clip-path="url(#cb2)">
<polyline points="285.21,299.3 291.35,299.3 297.48,253.5 303.62,276.4 309.75,253.5 315.89,230.6 322.03,253.5 328.16,276.4 334.3,299.3 340.44,276.4 346.57,276.4 352.71,253.5 358.85,230.6 364.98,276.4 371.12,276.4 377.25,276.4 383.39,276.4" fill="none" stroke="#dba890" stroke-width="0.75"/>
<polyline points="285.21,230.6 291.35,276.4 297.48,230.6 303.62,230.6 309.75,207.7 315.89,253.5 322.03,253.5 328.16,276.4 334.3,299.3 340.44,253.5 346.57,253.5 352.71,253.5 358.85,230.6 364.98,230.6 371.12,230.6 377.25,230.6 383.39,253.5" fill="none" stroke="#c8bc48" stroke-width="0.75"/>
<polyline points="285.21,253.5 291.35,299.3 297.48,276.4 303.62,276.4 309.75,253.5 315.89,253.5 322.03,230.6 328.16,230.6 334.3,207.7 340.44,207.7 346.57,207.7 352.71,207.7 358.85,207.7 364.98,207.7 371.12,207.7 377.25,207.7 383.39,207.7" fill="none" stroke="#7aa496" stroke-width="0.75"/>
<polyline points="285.21,299.3 291.35,299.3 297.48,299.3 303.62,299.3 309.75,276.4 315.89,276.4 322.03,276.4 328.16,276.4 334.3,276.4 340.44,253.5 346.57,253.5 352.71,253.5 358.85,253.5 364.98,253.5 371.12,276.4 377.25,276.4 383.39,276.4" fill="none" stroke="#94a2f0" stroke-width="0.75"/>
<polyline points="285.21,207.7 291.35,230.6 297.48,230.6 303.62,207.7 309.75,184.8 315.89,207.7 322.03,207.7 328.16,184.8 334.3,161.9 340.44,161.9 346.57,161.9 352.71,161.9 358.85,161.9 364.98,161.9 371.12,161.9 377.25,161.9 383.39,161.9" fill="none" stroke="#b894f0" stroke-width="0.75"/>
<circle cx="297.48" cy="253.5" r="1.05" fill="#8a6a5c"/>
<circle cx="303.62" cy="276.4" r="1.05" fill="#8a6a5c"/>
<circle cx="309.75" cy="253.5" r="1.05" fill="#8a6a5c"/>
<circle cx="315.89" cy="230.6" r="1.05" fill="#8a6a5c"/>
<circle cx="322.03" cy="253.5" r="1.05" fill="#8a6a5c"/>
<circle cx="328.16" cy="276.4" r="1.05" fill="#8a6a5c"/>
<circle cx="340.44" cy="276.4" r="1.05" fill="#8a6a5c"/>
<circle cx="346.57" cy="276.4" r="1.05" fill="#8a6a5c"/>
<circle cx="352.71" cy="253.5" r="1.05" fill="#8a6a5c"/>
<circle cx="358.85" cy="230.6" r="1.05" fill="#8a6a5c"/>
<circle cx="364.98" cy="276.4" r="1.05" fill="#8a6a5c"/>
<circle cx="371.12" cy="276.4" r="1.05" fill="#8a6a5c"/>
<circle cx="377.25" cy="276.4" r="1.05" fill="#8a6a5c"/>
<circle cx="383.39" cy="276.4" r="1.05" fill="#8a6a5c"/>
<circle cx="285.21" cy="230.6" r="1.05" fill="#8a8a2a"/>
<circle cx="291.35" cy="276.4" r="1.05" fill="#8a8a2a"/>
<circle cx="297.48" cy="230.6" r="1.05" fill="#8a8a2a"/>
<circle cx="303.62" cy="230.6" r="1.05" fill="#8a8a2a"/>
<circle cx="309.75" cy="207.7" r="1.05" fill="#8a8a2a"/>
<circle cx="315.89" cy="253.5" r="1.05" fill="#8a8a2a"/>
<circle cx="322.03" cy="253.5" r="1.05" fill="#8a8a2a"/>
<circle cx="328.16" cy="276.4" r="1.05" fill="#8a8a2a"/>
<circle cx="340.44" cy="253.5" r="1.05" fill="#8a8a2a"/>
<circle cx="346.57" cy="253.5" r="1.05" fill="#8a8a2a"/>
<circle cx="352.71" cy="253.5" r="1.05" fill="#8a8a2a"/>
<circle cx="358.85" cy="230.6" r="1.05" fill="#8a8a2a"/>
<circle cx="364.98" cy="230.6" r="1.05" fill="#8a8a2a"/>
<circle cx="371.12" cy="230.6" r="1.05" fill="#8a8a2a"/>
<circle cx="377.25" cy="230.6" r="1.05" fill="#8a8a2a"/>
<circle cx="383.39" cy="253.5" r="1.05" fill="#8a8a2a"/>
<circle cx="285.21" cy="253.5" r="1.05" fill="#4e5c58"/>
<circle cx="297.48" cy="276.4" r="1.05" fill="#4e5c58"/>
<circle cx="303.62" cy="276.4" r="1.05" fill="#4e5c58"/>
<circle cx="309.75" cy="253.5" r="1.05" fill="#4e5c58"/>
<circle cx="315.89" cy="253.5" r="1.05" fill="#4e5c58"/>
<circle cx="322.03" cy="230.6" r="1.05" fill="#4e5c58"/>
<circle cx="328.16" cy="230.6" r="1.05" fill="#4e5c58"/>
<circle cx="334.3" cy="207.7" r="1.05" fill="#4e5c58"/>
<circle cx="340.44" cy="207.7" r="1.05" fill="#4e5c58"/>
<circle cx="346.57" cy="207.7" r="1.05" fill="#4e5c58"/>
<circle cx="352.71" cy="207.7" r="1.05" fill="#4e5c58"/>
<circle cx="358.85" cy="207.7" r="1.05" fill="#4e5c58"/>
<circle cx="364.98" cy="207.7" r="1.05" fill="#4e5c58"/>
<circle cx="371.12" cy="207.7" r="1.05" fill="#4e5c58"/>
<circle cx="377.25" cy="207.7" r="1.05" fill="#4e5c58"/>
<circle cx="383.39" cy="207.7" r="1.05" fill="#4e5c58"/>
<circle cx="309.75" cy="276.4" r="1.05" fill="#5e66c0"/>
<circle cx="315.89" cy="276.4" r="1.05" fill="#5e66c0"/>
<circle cx="322.03" cy="276.4" r="1.05" fill="#5e66c0"/>
<circle cx="328.16" cy="276.4" r="1.05" fill="#5e66c0"/>
<circle cx="334.3" cy="276.4" r="1.05" fill="#5e66c0"/>
<circle cx="340.44" cy="253.5" r="1.05" fill="#5e66c0"/>
<circle cx="346.57" cy="253.5" r="1.05" fill="#5e66c0"/>
<circle cx="352.71" cy="253.5" r="1.05" fill="#5e66c0"/>
<circle cx="358.85" cy="253.5" r="1.05" fill="#5e66c0"/>
<circle cx="364.98" cy="253.5" r="1.05" fill="#5e66c0"/>
<circle cx="371.12" cy="276.4" r="1.05" fill="#5e66c0"/>
<circle cx="377.25" cy="276.4" r="1.05" fill="#5e66c0"/>
<circle cx="383.39" cy="276.4" r="1.05" fill="#5e66c0"/>
<circle cx="285.21" cy="207.7" r="1.05" fill="#7058b4"/>
<circle cx="291.35" cy="230.6" r="1.05" fill="#7058b4"/>
<circle cx="297.48" cy="230.6" r="1.05" fill="#7058b4"/>
<circle cx="303.62" cy="207.7" r="1.05" fill="#7058b4"/>
<circle cx="309.75" cy="184.8" r="1.05" fill="#7058b4"/>
<circle cx="315.89" cy="207.7" r="1.05" fill="#7058b4"/>
<circle cx="322.03" cy="207.7" r="1.05" fill="#7058b4"/>
<circle cx="328.16" cy="184.8" r="1.05" fill="#7058b4"/>
<circle cx="334.3" cy="161.9" r="1.05" fill="#7058b4"/>
<circle cx="340.44" cy="161.9" r="1.05" fill="#7058b4"/>
<circle cx="346.57" cy="161.9" r="1.05" fill="#7058b4"/>
<circle cx="352.71" cy="161.9" r="1.05" fill="#7058b4"/>
<circle cx="358.85" cy="161.9" r="1.05" fill="#7058b4"/>
<circle cx="364.98" cy="161.9" r="1.05" fill="#7058b4"/>
<circle cx="371.12" cy="161.9" r="1.05" fill="#7058b4"/>
<circle cx="377.25" cy="161.9" r="1.05" fill="#7058b4"/>
<circle cx="383.39" cy="161.9" r="1.05" fill="#7058b4"/>
</g>
<rect x="280.3" y="156.4" width="108" height="125.7" fill="none" stroke="#3a3a3a" stroke-width="0.9"/>
<text x="277.5" y="165.3" font-size="4.5" text-anchor="end" fill="#444" stroke="#444" stroke-width="0.05" >0.862</text>
<line x1="278.9" y1="163.8" x2="280.3" y2="163.8" stroke="#333" stroke-width="0.6"/>
<text x="277.5" y="190.1" font-size="4.5" text-anchor="end" fill="#444" stroke="#444" stroke-width="0.05" >0.864</text>
<line x1="278.9" y1="188.6" x2="280.3" y2="188.6" stroke="#333" stroke-width="0.6"/>
<text x="277.5" y="214.9" font-size="4.5" text-anchor="end" fill="#444" stroke="#444" stroke-width="0.05" >0.866</text>
<line x1="278.9" y1="213.4" x2="280.3" y2="213.4" stroke="#333" stroke-width="0.6"/>
<text x="277.5" y="239.7" font-size="4.5" text-anchor="end" fill="#444" stroke="#444" stroke-width="0.05" >0.868</text>
<line x1="278.9" y1="238.2" x2="280.3" y2="238.2" stroke="#333" stroke-width="0.6"/>
<text x="277.5" y="264.5" font-size="4.5" text-anchor="end" fill="#444" stroke="#444" stroke-width="0.05" >0.860</text>
<line x1="278.9" y1="263" x2="280.3" y2="263" stroke="#333" stroke-width="0.6"/>
<line x1="285.21" y1="282.1" x2="285.21" y2="283.5" stroke="#333" stroke-width="0.6"/>
<text x="285.21" y="289.1" font-size="4.5" text-anchor="middle" fill="#444" stroke="#444" stroke-width="0.05" >200</text>
<line x1="309.75" y1="282.1" x2="309.75" y2="283.5" stroke="#333" stroke-width="0.6"/>
<text x="309.75" y="289.1" font-size="4.5" text-anchor="middle" fill="#444" stroke="#444" stroke-width="0.05" >400</text>
<line x1="334.3" y1="282.1" x2="334.3" y2="283.5" stroke="#333" stroke-width="0.6"/>
<text x="334.3" y="289.1" font-size="4.5" text-anchor="middle" fill="#444" stroke="#444" stroke-width="0.05" >600</text>
<line x1="358.85" y1="282.1" x2="358.85" y2="283.5" stroke="#333" stroke-width="0.6"/>
<text x="358.85" y="289.1" font-size="4.5" text-anchor="middle" fill="#444" stroke="#444" stroke-width="0.05" >800</text>
<line x1="383.39" y1="282.1" x2="383.39" y2="283.5" stroke="#333" stroke-width="0.6"/>
<text x="383.39" y="289.1" font-size="4.5" text-anchor="middle" fill="#444" stroke="#444" stroke-width="0.05" >1000</text>
<rect x="390.5" y="147.3" width="108.2" height="9.1" fill="#d5d5d5" stroke="#333" stroke-width="0.9"/>
<text x="444.6" y="153.4" font-size="4.5" text-anchor="middle" fill="#111" stroke="#111" stroke-width="0.12" >0.3</text>
<rect x="390.5" y="156.4" width="108.2" height="125.7" fill="#fff"/>
<line x1="407.71" y1="156.4" x2="407.71" y2="282.1" stroke="#f3f3f3" stroke-width="0.4"/><line x1="432.3" y1="156.4" x2="432.3" y2="282.1" stroke="#f3f3f3" stroke-width="0.4"/><line x1="456.9" y1="156.4" x2="456.9" y2="282.1" stroke="#f3f3f3" stroke-width="0.4"/><line x1="481.49" y1="156.4" x2="481.49" y2="282.1" stroke="#f3f3f3" stroke-width="0.4"/><line x1="390.5" y1="151.4" x2="498.7" y2="151.4" stroke="#f3f3f3" stroke-width="0.4"/><line x1="390.5" y1="176.2" x2="498.7" y2="176.2" stroke="#f3f3f3" stroke-width="0.4"/><line x1="390.5" y1="201" x2="498.7" y2="201" stroke="#f3f3f3" stroke-width="0.4"/><line x1="390.5" y1="225.8" x2="498.7" y2="225.8" stroke="#f3f3f3" stroke-width="0.4"/><line x1="390.5" y1="250.6" x2="498.7" y2="250.6" stroke="#f3f3f3" stroke-width="0.4"/><line x1="395.42" y1="156.4" x2="395.42" y2="282.1" stroke="#ebebeb" stroke-width="0.6"/><line x1="420.01" y1="156.4" x2="420.01" y2="282.1" stroke="#ebebeb" stroke-width="0.6"/><line x1="444.6" y1="156.4" x2="444.6" y2="282.1" stroke="#ebebeb" stroke-width="0.6"/><line x1="469.19" y1="156.4" x2="469.19" y2="282.1" stroke="#ebebeb" stroke-width="0.6"/><line x1="493.78" y1="156.4" x2="493.78" y2="282.1" stroke="#ebebeb" stroke-width="0.6"/><line x1="390.5" y1="163.8" x2="498.7" y2="163.8" stroke="#ebebeb" stroke-width="0.6"/><line x1="390.5" y1="188.6" x2="498.7" y2="188.6" stroke="#ebebeb" stroke-width="0.6"/><line x1="390.5" y1="213.4" x2="498.7" y2="213.4" stroke="#ebebeb" stroke-width="0.6"/><line x1="390.5" y1="238.2" x2="498.7" y2="238.2" stroke="#ebebeb" stroke-width="0.6"/><line x1="390.5" y1="263" x2="498.7" y2="263" stroke="#ebebeb" stroke-width="0.6"/>
<clipPath id="cb3"><rect x="390.5" y="156.4" width="108.2" height="125.7"/></clipPath>
<g clip-path="url(#cb3)">
<polyline points="395.42,253.5 401.57,207.7 407.71,299.3 413.86,230.6 420.01,230.6 426.16,207.7 432.3,207.7 438.45,207.7 444.6,207.7 450.75,230.6 456.9,230.6 463.04,230.6 469.19,230.6 475.34,230.6 481.49,230.6 487.63,230.6 493.78,230.6" fill="none" stroke="#dba890" stroke-width="0.75"/>
<polyline points="395.42,207.7 401.57,273.65 407.71,273.65 413.86,273.65 420.01,230.6 426.16,253.5 432.3,253.5 438.45,273.65 444.6,273.65 450.75,273.65 456.9,273.65 463.04,273.65 469.19,273.65 475.34,273.65 481.49,273.65 487.63,273.65 493.78,273.65" fill="none" stroke="#c8bc48" stroke-width="0.75"/>
<polyline points="395.42,253.5 401.57,207.7 407.71,207.7 413.86,230.6 420.01,230.6 426.16,207.7 432.3,207.7 438.45,207.7 444.6,207.7 450.75,207.7 456.9,207.7 463.04,230.6 469.19,230.6 475.34,230.6 481.49,230.6 487.63,230.6 493.78,230.6" fill="none" stroke="#7aa496" stroke-width="0.75"/>
<polyline points="395.42,276.4 401.57,253.5 407.71,207.7 413.86,207.7 420.01,184.8 426.16,184.8 432.3,207.7 438.45,184.8 444.6,207.7 450.75,184.8 456.9,184.8 463.04,207.7 469.19,207.7 475.34,207.7 481.49,207.7 487.63,207.7 493.78,207.7" fill="none" stroke="#94a2f0" stroke-width="0.75"/>
<polyline points="395.42,230.6 401.57,207.7 407.71,184.8 413.86,184.8 420.01,184.8 426.16,184.8 432.3,207.7 438.45,184.8 444.6,207.7 450.75,184.8 456.9,184.8 463.04,188.24 469.19,188.24 475.34,188.24 481.49,188.24 487.63,188.24 493.78,188.24" fill="none" stroke="#b894f0" stroke-width="0.75"/>
<circle cx="395.42" cy="253.5" r="1.05" fill="#8a6a5c"/>
<circle cx="401.57" cy="207.7" r="1.05" fill="#8a6a5c"/>
<circle cx="413.86" cy="230.6" r="1.05" fill="#8a6a5c"/>
<circle cx="420.01" cy="230.6" r="1.05" fill="#8a6a5c"/>
<circle cx="426.16" cy="207.7" r="1.05" fill="#8a6a5c"/>
<circle cx="432.3" cy="207.7" r="1.05" fill="#8a6a5c"/>
<circle cx="438.45" cy="207.7" r="1.05" fill="#8a6a5c"/>
<circle cx="444.6" cy="207.7" r="1.05" fill="#8a6a5c"/>
<circle cx="450.75" cy="230.6" r="1.05" fill="#8a6a5c"/>
<circle cx="456.9" cy="230.6" r="1.05" fill="#8a6a5c"/>
<circle cx="463.04" cy="230.6" r="1.05" fill="#8a6a5c"/>
<circle cx="469.19" cy="230.6" r="1.05" fill="#8a6a5c"/>
<circle cx="475.34" cy="230.6" r="1.05" fill="#8a6a5c"/>
<circle cx="481.49" cy="230.6" r="1.05" fill="#8a6a5c"/>
<circle cx="487.63" cy="230.6" r="1.05" fill="#8a6a5c"/>
<circle cx="493.78" cy="230.6" r="1.05" fill="#8a6a5c"/>
<circle cx="395.42" cy="207.7" r="1.05" fill="#8a8a2a"/>
<circle cx="401.57" cy="273.65" r="1.05" fill="#8a8a2a"/>
<circle cx="407.71" cy="273.65" r="1.05" fill="#8a8a2a"/>
<circle cx="413.86" cy="273.65" r="1.05" fill="#8a8a2a"/>
<circle cx="420.01" cy="230.6" r="1.05" fill="#8a8a2a"/>
<circle cx="426.16" cy="253.5" r="1.05" fill="#8a8a2a"/>
<circle cx="432.3" cy="253.5" r="1.05" fill="#8a8a2a"/>
<circle cx="438.45" cy="273.65" r="1.05" fill="#8a8a2a"/>
<circle cx="444.6" cy="273.65" r="1.05" fill="#8a8a2a"/>
<circle cx="450.75" cy="273.65" r="1.05" fill="#8a8a2a"/>
<circle cx="456.9" cy="273.65" r="1.05" fill="#8a8a2a"/>
<circle cx="463.04" cy="273.65" r="1.05" fill="#8a8a2a"/>
<circle cx="469.19" cy="273.65" r="1.05" fill="#8a8a2a"/>
<circle cx="475.34" cy="273.65" r="1.05" fill="#8a8a2a"/>
<circle cx="481.49" cy="273.65" r="1.05" fill="#8a8a2a"/>
<circle cx="487.63" cy="273.65" r="1.05" fill="#8a8a2a"/>
<circle cx="493.78" cy="273.65" r="1.05" fill="#8a8a2a"/>
<circle cx="395.42" cy="253.5" r="1.05" fill="#4e5c58"/>
<circle cx="401.57" cy="207.7" r="1.05" fill="#4e5c58"/>
<circle cx="407.71" cy="207.7" r="1.05" fill="#4e5c58"/>
<circle cx="413.86" cy="230.6" r="1.05" fill="#4e5c58"/>
<circle cx="420.01" cy="230.6" r="1.05" fill="#4e5c58"/>
<circle cx="426.16" cy="207.7" r="1.05" fill="#4e5c58"/>
<circle cx="432.3" cy="207.7" r="1.05" fill="#4e5c58"/>
<circle cx="438.45" cy="207.7" r="1.05" fill="#4e5c58"/>
<circle cx="444.6" cy="207.7" r="1.05" fill="#4e5c58"/>
<circle cx="450.75" cy="207.7" r="1.05" fill="#4e5c58"/>
<circle cx="456.9" cy="207.7" r="1.05" fill="#4e5c58"/>
<circle cx="463.04" cy="230.6" r="1.05" fill="#4e5c58"/>
<circle cx="469.19" cy="230.6" r="1.05" fill="#4e5c58"/>
<circle cx="475.34" cy="230.6" r="1.05" fill="#4e5c58"/>
<circle cx="481.49" cy="230.6" r="1.05" fill="#4e5c58"/>
<circle cx="487.63" cy="230.6" r="1.05" fill="#4e5c58"/>
<circle cx="493.78" cy="230.6" r="1.05" fill="#4e5c58"/>
<circle cx="395.42" cy="276.4" r="1.05" fill="#5e66c0"/>
<circle cx="401.57" cy="253.5" r="1.05" fill="#5e66c0"/>
<circle cx="407.71" cy="207.7" r="1.05" fill="#5e66c0"/>
<circle cx="413.86" cy="207.7" r="1.05" fill="#5e66c0"/>
<circle cx="420.01" cy="184.8" r="1.05" fill="#5e66c0"/>
<circle cx="426.16" cy="184.8" r="1.05" fill="#5e66c0"/>
<circle cx="432.3" cy="207.7" r="1.05" fill="#5e66c0"/>
<circle cx="438.45" cy="184.8" r="1.05" fill="#5e66c0"/>
<circle cx="444.6" cy="207.7" r="1.05" fill="#5e66c0"/>
<circle cx="450.75" cy="184.8" r="1.05" fill="#5e66c0"/>
<circle cx="456.9" cy="184.8" r="1.05" fill="#5e66c0"/>
<circle cx="463.04" cy="207.7" r="1.05" fill="#5e66c0"/>
<circle cx="469.19" cy="207.7" r="1.05" fill="#5e66c0"/>
<circle cx="475.34" cy="207.7" r="1.05" fill="#5e66c0"/>
<circle cx="481.49" cy="207.7" r="1.05" fill="#5e66c0"/>
<circle cx="487.63" cy="207.7" r="1.05" fill="#5e66c0"/>
<circle cx="493.78" cy="207.7" r="1.05" fill="#5e66c0"/>
<circle cx="395.42" cy="230.6" r="1.05" fill="#7058b4"/>
<circle cx="401.57" cy="207.7" r="1.05" fill="#7058b4"/>
<circle cx="407.71" cy="184.8" r="1.05" fill="#7058b4"/>
<circle cx="413.86" cy="184.8" r="1.05" fill="#7058b4"/>
<circle cx="420.01" cy="184.8" r="1.05" fill="#7058b4"/>
<circle cx="426.16" cy="184.8" r="1.05" fill="#7058b4"/>
<circle cx="432.3" cy="207.7" r="1.05" fill="#7058b4"/>
<circle cx="438.45" cy="184.8" r="1.05" fill="#7058b4"/>
<circle cx="444.6" cy="207.7" r="1.05" fill="#7058b4"/>
<circle cx="450.75" cy="184.8" r="1.05" fill="#7058b4"/>
<circle cx="456.9" cy="184.8" r="1.05" fill="#7058b4"/>
<circle cx="463.04" cy="188.24" r="1.05" fill="#7058b4"/>
<circle cx="469.19" cy="188.24" r="1.05" fill="#7058b4"/>
<circle cx="475.34" cy="188.24" r="1.05" fill="#7058b4"/>
<circle cx="481.49" cy="188.24" r="1.05" fill="#7058b4"/>
<circle cx="487.63" cy="188.24" r="1.05" fill="#7058b4"/>
<circle cx="493.78" cy="188.24" r="1.05" fill="#7058b4"/>
</g>
<rect x="390.5" y="156.4" width="108.2" height="125.7" fill="none" stroke="#3a3a3a" stroke-width="0.9"/>
<line x1="395.42" y1="282.1" x2="395.42" y2="283.5" stroke="#333" stroke-width="0.6"/>
<text x="395.42" y="289.1" font-size="4.5" text-anchor="middle" fill="#444" stroke="#444" stroke-width="0.05" >200</text>
<line x1="420.01" y1="282.1" x2="420.01" y2="283.5" stroke="#333" stroke-width="0.6"/>
<text x="420.01" y="289.1" font-size="4.5" text-anchor="middle" fill="#444" stroke="#444" stroke-width="0.05" >400</text>
<line x1="444.6" y1="282.1" x2="444.6" y2="283.5" stroke="#333" stroke-width="0.6"/>
<text x="444.6" y="289.1" font-size="4.5" text-anchor="middle" fill="#444" stroke="#444" stroke-width="0.05" >600</text>
<line x1="469.19" y1="282.1" x2="469.19" y2="283.5" stroke="#333" stroke-width="0.6"/>
<text x="469.19" y="289.1" font-size="4.5" text-anchor="middle" fill="#444" stroke="#444" stroke-width="0.05" >800</text>
<line x1="493.78" y1="282.1" x2="493.78" y2="283.5" stroke="#333" stroke-width="0.6"/>
<text x="493.78" y="289.1" font-size="4.5" text-anchor="middle" fill="#444" stroke="#444" stroke-width="0.05" >1000</text>
<text x="0" y="0" font-size="5.4" text-anchor="middle" fill="#1a1a1a" stroke="#1a1a1a" stroke-width="0.08" transform="translate(264,149.5) rotate(-90)">Accuracy (Cross-Validation)</text>
<text x="389.5" y="296.1" font-size="5.25" text-anchor="middle" fill="#111" stroke="#111" stroke-width="0.18" ># Boosting Iterations</text>
<text x="506.8" y="130.8" font-size="5.2" text-anchor="start" fill="#1a1a1a" stroke="#1a1a1a" stroke-width="0.1" >Max Tree Depth</text>
<line x1="507.4" y1="138.2" x2="513.4" y2="138.2" stroke="#dba890" stroke-width="0.75"/>
<circle cx="510.4" cy="138.2" r="1.05" fill="#8a6a5c"/>
<text x="517.6" y="139.8" font-size="4.5" text-anchor="start" fill="#333" >2</text>
<line x1="507.4" y1="146.65" x2="513.4" y2="146.65" stroke="#c8bc48" stroke-width="0.75"/>
<circle cx="510.4" cy="146.65" r="1.05" fill="#8a8a2a"/>
<text x="517.6" y="148.25" font-size="4.5" text-anchor="start" fill="#333" >3</text>
<line x1="507.4" y1="155.1" x2="513.4" y2="155.1" stroke="#7aa496" stroke-width="0.75"/>
<circle cx="510.4" cy="155.1" r="1.05" fill="#4e5c58"/>
<text x="517.6" y="156.7" font-size="4.5" text-anchor="start" fill="#333" >4</text>
<line x1="507.4" y1="163.55" x2="513.4" y2="163.55" stroke="#94a2f0" stroke-width="0.75"/>
<circle cx="510.4" cy="163.55" r="1.05" fill="#5e66c0"/>
<text x="517.6" y="165.15" font-size="4.5" text-anchor="start" fill="#333" >5</text>
<line x1="507.4" y1="172" x2="513.4" y2="172" stroke="#b894f0" stroke-width="0.75"/>
<circle cx="510.4" cy="172" r="1.05" fill="#7058b4"/>
<text x="517.6" y="173.6" font-size="4.5" text-anchor="start" fill="#333" >6</text>
</g>
<defs><filter id="bl2" x="0" y="0" width="550" height="326" filterUnits="userSpaceOnUse" color-interpolation-filters="sRGB"><feConvolveMatrix order="3" kernelMatrix="1 2 1 2 12 2 1 2 1" edgeMode="duplicate"/></filter></defs>
<g filter="url(#bl2)">
<text x="126.4" y="317.7" font-size="13" font-weight="bold" text-anchor="middle" letter-spacing="-0.4" fill="#000" style="font-family:'Liberation Serif',serif">(a)</text>
<text x="401.2" y="317.7" font-size="13" font-weight="bold" text-anchor="middle" letter-spacing="-0.4" fill="#000" style="font-family:'Liberation Serif',serif">(b)</text>
</g></svg></body></html>
